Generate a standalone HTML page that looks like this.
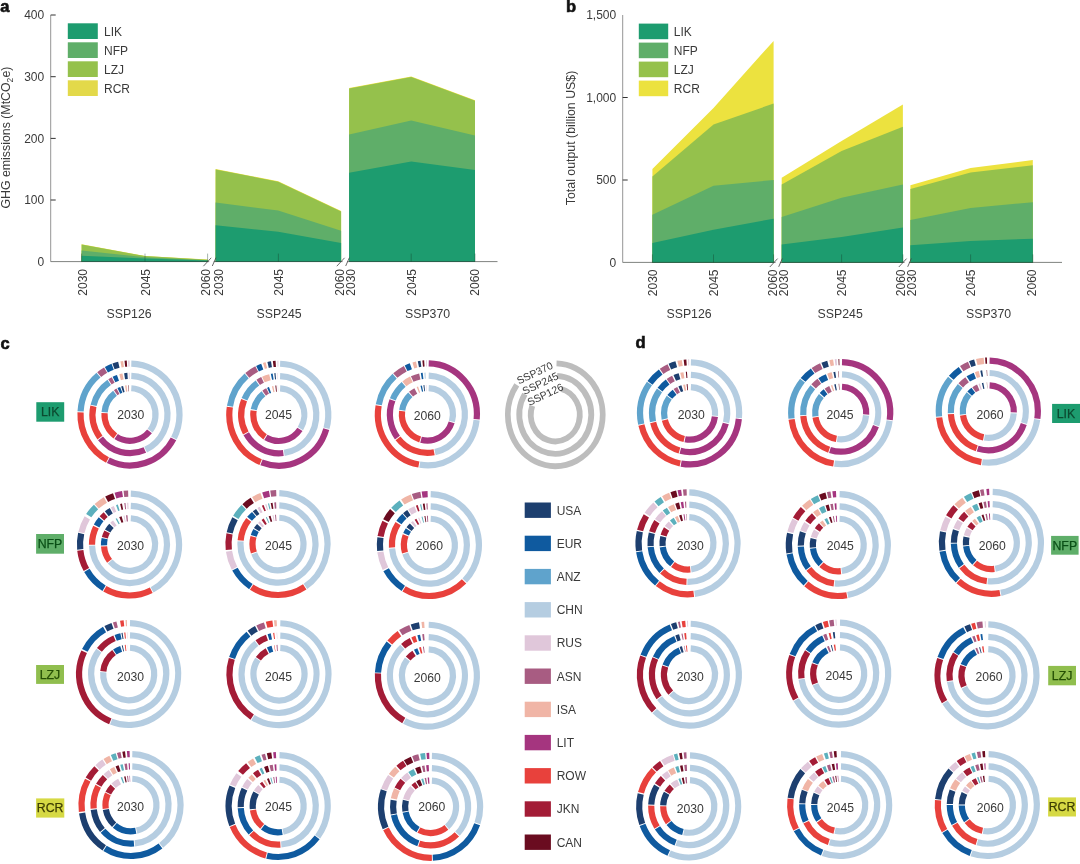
<!DOCTYPE html>
<html lang="en"><head><meta charset="utf-8"><title>Figure</title>
<style>
html,body{margin:0;padding:0;background:#fff}
body{width:1080px;height:864px;overflow:hidden}
svg{display:block}
svg text{font-family:"Liberation Sans",sans-serif;fill:#3a3a3a}
</style></head><body>
<svg width="1080" height="864" viewBox="0 0 1080 864">
<rect width="1080" height="864" fill="#fff"/>
<polygon fill="#ece23f" points="81.6,244.2 145.0,256.0 207.6,259.6 207.6,262.0 81.6,262.0"/>
<polygon fill="#95c14c" points="81.6,244.4 145.0,256.1 207.6,259.7 207.6,262.0 81.6,262.0"/>
<polygon fill="#5fae69" points="81.6,250.5 145.0,257.3 207.6,260.2 207.6,262.0 81.6,262.0"/>
<polygon fill="#1d9c6f" points="81.6,255.8 145.0,258.6 207.6,260.6 207.6,262.0 81.6,262.0"/>
<polygon fill="#ece23f" points="215.6,169.0 278.2,181.3 341.1,211.1 341.1,262.0 215.6,262.0"/>
<polygon fill="#95c14c" points="215.6,169.4 278.2,181.7 341.1,211.5 341.1,262.0 215.6,262.0"/>
<polygon fill="#5fae69" points="215.6,202.5 278.2,210.6 341.1,230.7 341.1,262.0 215.6,262.0"/>
<polygon fill="#1d9c6f" points="215.6,225.2 278.2,231.7 341.1,243.0 341.1,262.0 215.6,262.0"/>
<polygon fill="#ece23f" points="349.1,88.0 411.2,76.6 475.0,100.3 475.0,262.0 349.1,262.0"/>
<polygon fill="#95c14c" points="349.1,88.4 411.2,77.0 475.0,100.7 475.0,262.0 349.1,262.0"/>
<polygon fill="#5fae69" points="349.1,134.5 411.2,120.6 475.0,135.5 475.0,262.0 349.1,262.0"/>
<polygon fill="#1d9c6f" points="349.1,172.7 411.2,161.4 475.0,170.1 475.0,262.0 349.1,262.0"/>
<g fill="none">
<path d="M50.7 15V261.6" stroke="#8a8a8a" stroke-width="0.9"/>
<path d="M50.7 261.6H209.2M213.8 261.6H342.6M347.2 261.6H497.5" stroke="rgba(50,55,50,0.62)" stroke-width="1"/>
<path d="M203.4 266.2L211.2 257.8M212.3 266.0L216.0 257.6" stroke="#444" stroke-width="0.8"/>
<path d="M336.8 266.2L344.6 257.8M345.7 266.0L349.4 257.6" stroke="#444" stroke-width="0.8"/>
<path d="M50.7 200.0h5" stroke="#333" stroke-width="1"/>
<path d="M50.7 138.4h5" stroke="#333" stroke-width="1"/>
<path d="M50.7 76.7h5" stroke="#333" stroke-width="1"/>
<path d="M50.7 15h5" stroke="#333" stroke-width="1"/>
<path d="M81.6 261.6v-8" stroke="rgba(20,60,40,0.38)" stroke-width="1"/>
<path d="M145 261.6v-8" stroke="rgba(20,60,40,0.38)" stroke-width="1"/>
<path d="M207.6 261.6v-8" stroke="rgba(20,60,40,0.38)" stroke-width="1"/>
<path d="M278.4 261.6v-8" stroke="rgba(20,60,40,0.38)" stroke-width="1"/>
<path d="M411.2 261.6v-8" stroke="rgba(20,60,40,0.38)" stroke-width="1"/>
<path d="M475 261.6v-8" stroke="rgba(20,60,40,0.38)" stroke-width="1"/>
</g>
<g font-size="12">
<text x="44.2" y="265.9" text-anchor="end">0</text>
<text x="44.2" y="204.3" text-anchor="end">100</text>
<text x="44.2" y="142.7" text-anchor="end">200</text>
<text x="44.2" y="81.0" text-anchor="end">300</text>
<text x="44.2" y="19.3" text-anchor="end">400</text>
<text transform="translate(87.0 269.0) rotate(-90)" text-anchor="end">2030</text>
<text transform="translate(149.6 269.0) rotate(-90)" text-anchor="end">2045</text>
<text transform="translate(210.3 269.0) rotate(-90)" text-anchor="end">2060</text>
<text transform="translate(223.2 269.0) rotate(-90)" text-anchor="end">2030</text>
<text transform="translate(282.9 269.0) rotate(-90)" text-anchor="end">2045</text>
<text transform="translate(344.1 269.0) rotate(-90)" text-anchor="end">2060</text>
<text transform="translate(355.0 269.0) rotate(-90)" text-anchor="end">2030</text>
<text transform="translate(415.9 269.0) rotate(-90)" text-anchor="end">2045</text>
<text transform="translate(479.3 269.0) rotate(-90)" text-anchor="end">2060</text>
</g>
<g font-size="12.3">
<text x="106.5" y="317.6">SSP126</text>
<text x="256.5" y="317.6">SSP245</text>
<text x="405" y="317.6">SSP370</text>
</g>
<text transform="translate(10.2 208.6) rotate(-90)" font-size="12.35">GHG emissions (MtCO<tspan font-size="8.6" dy="3">2</tspan><tspan dy="-3">e)</tspan></text>
<rect x="67.8" y="23.3" width="30" height="15.7" fill="#1d9c6f"/>
<text x="104" y="35.9" font-size="12">LIK</text>
<rect x="67.8" y="42.3" width="30" height="15.7" fill="#5fae69"/>
<text x="104" y="54.9" font-size="12">NFP</text>
<rect x="67.8" y="61.3" width="30" height="15.7" fill="#95c14c"/>
<text x="104" y="73.9" font-size="12">LZJ</text>
<rect x="67.8" y="80.3" width="30" height="15.7" fill="#e3d94a"/>
<text x="104" y="92.9" font-size="12">RCR</text>
<text x="0.3" y="11.9" font-size="16.5" font-weight="bold" style="fill:#111;stroke:#111;stroke-width:0.6">a</text>
<polygon fill="#ece23f" points="652.4,168.9 713.5,108.0 773.6,40.9 773.6,262.8 652.4,262.8"/>
<polygon fill="#95c14c" points="652.4,176.4 713.5,124.4 773.6,103.6 773.6,262.8 652.4,262.8"/>
<polygon fill="#5fae69" points="652.4,214.7 713.5,185.8 773.6,180.0 773.6,262.8 652.4,262.8"/>
<polygon fill="#1d9c6f" points="652.4,243.1 713.5,229.8 773.6,218.7 773.6,262.8 652.4,262.8"/>
<polygon fill="#ece23f" points="781.7,177.8 841.6,140.9 902.9,104.4 902.9,262.8 781.7,262.8"/>
<polygon fill="#95c14c" points="781.7,184.4 841.6,151.1 902.9,126.7 902.9,262.8 781.7,262.8"/>
<polygon fill="#5fae69" points="781.7,216.9 841.6,197.8 902.9,184.4 902.9,262.8 781.7,262.8"/>
<polygon fill="#1d9c6f" points="781.7,244.4 841.6,236.9 902.9,227.6 902.9,262.8 781.7,262.8"/>
<polygon fill="#ece23f" points="910.4,185.3 970.6,168.0 1032.8,160.0 1032.8,262.8 910.4,262.8"/>
<polygon fill="#95c14c" points="910.4,188.9 970.6,172.4 1032.8,165.3 1032.8,262.8 910.4,262.8"/>
<polygon fill="#5fae69" points="910.4,220.0 970.6,208.0 1032.8,202.2 1032.8,262.8 910.4,262.8"/>
<polygon fill="#1d9c6f" points="910.4,245.3 970.6,240.9 1032.8,238.7 1032.8,262.8 910.4,262.8"/>
<g fill="none">
<path d="M622.7 15V262.4" stroke="#8a8a8a" stroke-width="0.9"/>
<path d="M622.7 262.4H775.6M779.9 262.4H904.6M908.9 262.4H1062" stroke="rgba(50,55,50,0.62)" stroke-width="1"/>
<path d="M769.8 267.0L777.6 258.6M778.7 266.8L782.4 258.4" stroke="#444" stroke-width="0.8"/>
<path d="M898.8 267.0L906.6 258.6M907.7 266.8L911.4 258.4" stroke="#444" stroke-width="0.8"/>
<path d="M622.7 180.0h5" stroke="#333" stroke-width="1"/>
<path d="M622.7 97.5h5" stroke="#333" stroke-width="1"/>
<path d="M652.4 262.4v-8" stroke="rgba(20,60,40,0.38)" stroke-width="1"/>
<path d="M713.5 262.4v-8" stroke="rgba(20,60,40,0.38)" stroke-width="1"/>
<path d="M773.6 262.4v-8" stroke="rgba(20,60,40,0.38)" stroke-width="1"/>
<path d="M841.6 262.4v-8" stroke="rgba(20,60,40,0.38)" stroke-width="1"/>
<path d="M902.9 262.4v-8" stroke="rgba(20,60,40,0.38)" stroke-width="1"/>
<path d="M970.6 262.4v-8" stroke="rgba(20,60,40,0.38)" stroke-width="1"/>
<path d="M1032.8 262.4v-8" stroke="rgba(20,60,40,0.38)" stroke-width="1"/>
</g>
<g font-size="12">
<text x="616.2" y="266.7" text-anchor="end">0</text>
<text x="616.2" y="184.3" text-anchor="end">500</text>
<text x="616.2" y="101.8" text-anchor="end">1,000</text>
<text x="616.2" y="19.3" text-anchor="end">1,500</text>
<text transform="translate(657.0 269.5) rotate(-90)" text-anchor="end">2030</text>
<text transform="translate(717.8 269.5) rotate(-90)" text-anchor="end">2045</text>
<text transform="translate(777.2 269.5) rotate(-90)" text-anchor="end">2060</text>
<text transform="translate(787.6 269.5) rotate(-90)" text-anchor="end">2030</text>
<text transform="translate(845.8 269.5) rotate(-90)" text-anchor="end">2045</text>
<text transform="translate(904.8 269.5) rotate(-90)" text-anchor="end">2060</text>
<text transform="translate(916.4 269.5) rotate(-90)" text-anchor="end">2030</text>
<text transform="translate(974.7 269.5) rotate(-90)" text-anchor="end">2045</text>
<text transform="translate(1035.6 269.5) rotate(-90)" text-anchor="end">2060</text>
</g>
<g font-size="12.3">
<text x="666.5" y="317.6">SSP126</text>
<text x="817.6" y="317.6">SSP245</text>
<text x="966" y="317.6">SSP370</text>
</g>
<text transform="translate(575.4 205.2) rotate(-90)" font-size="12.35">Total output (billion US$)</text>
<rect x="638.8" y="23.6" width="29.4" height="15.6" fill="#1d9c6f"/>
<text x="673.8" y="36.2" font-size="12">LIK</text>
<rect x="638.8" y="42.6" width="29.4" height="15.6" fill="#5fae69"/>
<text x="673.8" y="55.2" font-size="12">NFP</text>
<rect x="638.8" y="61.6" width="29.4" height="15.6" fill="#95c14c"/>
<text x="673.8" y="74.2" font-size="12">LZJ</text>
<rect x="638.8" y="80.6" width="29.4" height="15.6" fill="#ece23f"/>
<text x="673.8" y="93.2" font-size="12">RCR</text>
<text x="566" y="11.7" font-size="16.5" font-weight="bold" style="fill:#111;stroke:#111;stroke-width:0.6">b</text>
<text x="0.6" y="348.6" font-size="16.5" font-weight="bold" style="fill:#111;stroke:#111;stroke-width:0.6">c</text>
<text x="635.4" y="348.3" font-size="16.5" font-weight="bold" style="fill:#111;stroke:#111;stroke-width:0.6">d</text>
<!-- c-LIK-2030 -->
<g fill="none">
<path d="M131.30 363.53A49.5 50.98 0 0 1 173.92 438.03" stroke="#b5cde1" stroke-width="6.2"/>
<path d="M173.49 438.84A49.5 50.98 0 0 1 108.32 460.33" stroke="#a5357f" stroke-width="6.2"/>
<path d="M107.51 459.92A49.5 50.98 0 0 1 80.55 412.29" stroke="#e8413c" stroke-width="6.2"/>
<path d="M80.59 411.37A49.5 50.98 0 0 1 98.50 375.17" stroke="#5fa3cc" stroke-width="6.2"/>
<path d="M99.20 374.59A49.5 50.98 0 0 1 105.61 370.13" stroke="#a85c82" stroke-width="6.2"/>
<path d="M106.40 369.68A49.5 50.98 0 0 1 112.65 366.75" stroke="#0f5a9f" stroke-width="6.2"/>
<path d="M113.49 366.43A49.5 50.98 0 0 1 118.85 364.83" stroke="#1d3f6f" stroke-width="6.2"/>
<path d="M121.00 364.37A49.5 50.98 0 0 1 123.52 363.95" stroke="#f0b5a6" stroke-width="6.2"/>
<path d="M124.84 363.79A49.5 50.98 0 0 1 126.96 363.61" stroke="#6a0c20" stroke-width="6.2"/>
<path d="M128.29 363.55A49.5 50.98 0 0 1 129.55 363.52" stroke="#e0c7da" stroke-width="6.2"/>
<path d="M131.30 375.90A37.5 38.62 0 0 1 145.66 449.59" stroke="#b5cde1" stroke-width="6.2"/>
<path d="M144.84 449.97A37.5 38.62 0 0 1 100.48 438.33" stroke="#a5357f" stroke-width="6.2"/>
<path d="M99.94 437.59A37.5 38.62 0 0 1 93.36 406.26" stroke="#e8413c" stroke-width="6.2"/>
<path d="M93.56 405.36A37.5 38.62 0 0 1 109.20 382.36" stroke="#5fa3cc" stroke-width="6.2"/>
<path d="M109.95 381.86A37.5 38.62 0 0 1 113.16 379.99" stroke="#a85c82" stroke-width="6.2"/>
<path d="M113.97 379.58A37.5 38.62 0 0 1 117.98 377.91" stroke="#0f5a9f" stroke-width="6.2"/>
<path d="M120.10 377.25A37.5 38.62 0 0 1 123.05 376.55" stroke="#f0b5a6" stroke-width="6.2"/>
<path d="M124.58 376.28A37.5 38.62 0 0 1 127.59 375.95" stroke="#1d3f6f" stroke-width="6.2"/>
<path d="M128.81 375.89A37.5 38.62 0 0 1 129.55 375.88" stroke="#e0c7da" stroke-width="6.2"/>
<path d="M131.30 388.27A25.5 26.27 0 0 1 150.10 430.67" stroke="#b5cde1" stroke-width="6.2"/>
<path d="M149.53 431.39A25.5 26.27 0 0 1 116.12 436.53" stroke="#a5357f" stroke-width="6.2"/>
<path d="M115.37 436.01A25.5 26.27 0 0 1 104.53 413.13" stroke="#e8413c" stroke-width="6.2"/>
<path d="M104.60 412.21A25.5 26.27 0 0 1 115.01 393.25" stroke="#5fa3cc" stroke-width="6.2"/>
<path d="M115.74 392.72A25.5 26.27 0 0 1 118.02 391.31" stroke="#a85c82" stroke-width="6.2"/>
<path d="M118.83 390.89A25.5 26.27 0 0 1 121.27 389.82" stroke="#0f5a9f" stroke-width="6.2"/>
<path d="M122.12 389.52A25.5 26.27 0 0 1 123.83 389.02" stroke="#1d3f6f" stroke-width="6.2"/>
<path d="M125.58 388.63A25.5 26.27 0 0 1 126.89 388.43" stroke="#f0b5a6" stroke-width="6.2"/>
<path d="M128.23 388.30A25.5 26.27 0 0 1 128.66 388.27" stroke="#6a0c20" stroke-width="6.2"/>
</g>
<text x="130.8" y="419.2" text-anchor="middle" font-size="12.2">2030</text>
<!-- c-LIK-2045 -->
<g fill="none">
<path d="M280.10 363.73A49.5 50.98 0 0 1 326.50 428.31" stroke="#b5cde1" stroke-width="6.2"/>
<path d="M326.26 429.20A49.5 50.98 0 0 1 261.48 462.46" stroke="#a5357f" stroke-width="6.2"/>
<path d="M260.64 462.13A49.5 50.98 0 0 1 229.84 407.18" stroke="#e8413c" stroke-width="6.2"/>
<path d="M229.98 406.27A49.5 50.98 0 0 1 246.64 375.94" stroke="#5fa3cc" stroke-width="6.2"/>
<path d="M247.33 375.35A49.5 50.98 0 0 1 256.70 369.08" stroke="#a85c82" stroke-width="6.2"/>
<path d="M257.51 368.67A49.5 50.98 0 0 1 262.26 366.65" stroke="#0f5a9f" stroke-width="6.2"/>
<path d="M263.93 366.07A49.5 50.98 0 0 1 266.39 365.34" stroke="#f0b5a6" stroke-width="6.2"/>
<path d="M268.10 364.92A49.5 50.98 0 0 1 271.47 364.28" stroke="#1d3f6f" stroke-width="6.2"/>
<path d="M273.21 364.04A49.5 50.98 0 0 1 275.76 363.81" stroke="#6a0c20" stroke-width="6.2"/>
<path d="M277.52 363.73A49.5 50.98 0 0 1 278.35 363.72" stroke="#e0c7da" stroke-width="6.2"/>
<path d="M280.10 376.10A37.5 38.62 0 0 1 284.21 452.92" stroke="#b5cde1" stroke-width="6.2"/>
<path d="M283.31 453.04A37.5 38.62 0 0 1 246.22 433.83" stroke="#a5357f" stroke-width="6.2"/>
<path d="M245.79 433.02A37.5 38.62 0 0 1 244.11 400.04" stroke="#e8413c" stroke-width="6.2"/>
<path d="M244.46 399.18A37.5 38.62 0 0 1 257.46 382.94" stroke="#5fa3cc" stroke-width="6.2"/>
<path d="M258.20 382.42A37.5 38.62 0 0 1 262.55 379.89" stroke="#a85c82" stroke-width="6.2"/>
<path d="M263.36 379.50A37.5 38.62 0 0 1 269.93 377.17" stroke="#f0b5a6" stroke-width="6.2"/>
<path d="M271.44 376.83A37.5 38.62 0 0 1 273.14 376.52" stroke="#0f5a9f" stroke-width="6.2"/>
<path d="M274.68 376.31A37.5 38.62 0 0 1 275.74 376.20" stroke="#1d3f6f" stroke-width="6.2"/>
<path d="M277.29 376.11A37.5 38.62 0 0 1 277.70 376.09" stroke="#e0c7da" stroke-width="6.2"/>
<path d="M280.10 388.47A25.5 26.27 0 0 1 300.43 428.61" stroke="#b5cde1" stroke-width="6.2"/>
<path d="M299.94 429.39A25.5 26.27 0 0 1 265.86 437.33" stroke="#a5357f" stroke-width="6.2"/>
<path d="M265.09 436.85A25.5 26.27 0 0 1 253.61 410.60" stroke="#e8413c" stroke-width="6.2"/>
<path d="M253.77 409.68A25.5 26.27 0 0 1 263.45 393.73" stroke="#5fa3cc" stroke-width="6.2"/>
<path d="M264.18 393.18A25.5 26.27 0 0 1 267.62 391.10" stroke="#a85c82" stroke-width="6.2"/>
<path d="M268.43 390.70A25.5 26.27 0 0 1 270.07 390.02" stroke="#0f5a9f" stroke-width="6.2"/>
<path d="M272.64 389.21A25.5 26.27 0 0 1 273.93 388.92" stroke="#f0b5a6" stroke-width="6.2"/>
<path d="M275.70 388.63A25.5 26.27 0 0 1 276.57 388.54" stroke="#6a0c20" stroke-width="6.2"/>
<path d="M277.92 388.45A25.5 26.27 0 0 1 278.14 388.44" stroke="#e0c7da" stroke-width="6.2"/>
</g>
<text x="278.5" y="419.3" text-anchor="middle" font-size="12.2">2045</text>
<!-- c-LIK-2060 -->
<g fill="none">
<path d="M428.70 363.33A49.5 50.98 0 0 1 476.67 419.17" stroke="#a5357f" stroke-width="6.2"/>
<path d="M476.58 420.09A49.5 50.98 0 0 1 419.76 464.67" stroke="#b5cde1" stroke-width="6.2"/>
<path d="M418.87 464.52A49.5 50.98 0 0 1 378.62 405.64" stroke="#e8413c" stroke-width="6.2"/>
<path d="M378.78 404.73A49.5 50.98 0 0 1 394.59 376.13" stroke="#5fa3cc" stroke-width="6.2"/>
<path d="M395.27 375.52A49.5 50.98 0 0 1 405.30 368.68" stroke="#a85c82" stroke-width="6.2"/>
<path d="M406.11 368.27A49.5 50.98 0 0 1 410.86 366.25" stroke="#0f5a9f" stroke-width="6.2"/>
<path d="M413.36 365.41A49.5 50.98 0 0 1 416.67 364.53" stroke="#f0b5a6" stroke-width="6.2"/>
<path d="M418.40 364.17A49.5 50.98 0 0 1 420.92 363.75" stroke="#1d3f6f" stroke-width="6.2"/>
<path d="M422.67 363.55A49.5 50.98 0 0 1 424.36 363.41" stroke="#6a0c20" stroke-width="6.2"/>
<path d="M426.12 363.33A49.5 50.98 0 0 1 426.95 363.32" stroke="#e0c7da" stroke-width="6.2"/>
<path d="M428.70 375.70A37.5 38.62 0 0 1 435.00 452.12" stroke="#b5cde1" stroke-width="6.2"/>
<path d="M434.11 452.30A37.5 38.62 0 0 1 398.01 438.29" stroke="#e8413c" stroke-width="6.2"/>
<path d="M397.46 437.55A37.5 38.62 0 0 1 392.46 400.26" stroke="#a5357f" stroke-width="6.2"/>
<path d="M392.80 399.40A37.5 38.62 0 0 1 403.65 384.41" stroke="#5fa3cc" stroke-width="6.2"/>
<path d="M404.36 383.83A37.5 38.62 0 0 1 411.38 379.38" stroke="#f0b5a6" stroke-width="6.2"/>
<path d="M412.20 378.99A37.5 38.62 0 0 1 419.80 376.48" stroke="#a85c82" stroke-width="6.2"/>
<path d="M421.33 376.18A37.5 38.62 0 0 1 423.03 375.94" stroke="#0f5a9f" stroke-width="6.2"/>
<path d="M424.58 375.78A37.5 38.62 0 0 1 425.64 375.72" stroke="#b5cde1" stroke-width="6.2"/>
<path d="M428.70 388.07A25.5 26.27 0 0 1 451.91 421.53" stroke="#b5cde1" stroke-width="6.2"/>
<path d="M451.65 422.42A25.5 26.27 0 0 1 421.02 439.73" stroke="#a5357f" stroke-width="6.2"/>
<path d="M420.15 439.48A25.5 26.27 0 0 1 402.09 411.10" stroke="#e8413c" stroke-width="6.2"/>
<path d="M402.21 410.19A25.5 26.27 0 0 1 410.33 394.78" stroke="#5fa3cc" stroke-width="6.2"/>
<path d="M411.01 394.18A25.5 26.27 0 0 1 415.82 390.90" stroke="#a85c82" stroke-width="6.2"/>
<path d="M417.85 389.95A25.5 26.27 0 0 1 419.09 389.47" stroke="#f0b5a6" stroke-width="6.2"/>
<path d="M421.24 388.81A25.5 26.27 0 0 1 422.53 388.52" stroke="#0f5a9f" stroke-width="6.2"/>
<path d="M423.86 388.29A25.5 26.27 0 0 1 424.73 388.18" stroke="#1d3f6f" stroke-width="6.2"/>
<path d="M426.07 388.07A25.5 26.27 0 0 1 426.51 388.05" stroke="#e0c7da" stroke-width="6.2"/>
</g>
<text x="427.3" y="419.6" text-anchor="middle" font-size="12.2">2060</text>
<!-- c-NFP-2030 -->
<g fill="none">
<path d="M130.80 493.53A49.5 50.98 0 0 1 152.07 589.88" stroke="#b5cde1" stroke-width="6.2"/>
<path d="M151.26 590.29A49.5 50.98 0 0 1 104.84 588.71" stroke="#e8413c" stroke-width="6.2"/>
<path d="M104.06 588.24A49.5 50.98 0 0 1 86.86 570.39" stroke="#0f5a9f" stroke-width="6.2"/>
<path d="M86.41 569.59A49.5 50.98 0 0 1 80.32 550.29" stroke="#a31c36" stroke-width="6.2"/>
<path d="M80.23 549.37A49.5 50.98 0 0 1 81.17 533.48" stroke="#1d3f6f" stroke-width="6.2"/>
<path d="M81.37 532.58A49.5 50.98 0 0 1 87.28 517.88" stroke="#e0c7da" stroke-width="6.2"/>
<path d="M88.72 515.61A49.5 50.98 0 0 1 96.04 506.92" stroke="#5cb0bd" stroke-width="6.2"/>
<path d="M96.71 506.30A49.5 50.98 0 0 1 105.41 499.96" stroke="#f0b5a6" stroke-width="6.2"/>
<path d="M106.66 499.27A49.5 50.98 0 0 1 114.02 496.07" stroke="#6a0c20" stroke-width="6.2"/>
<path d="M115.46 495.61A49.5 50.98 0 0 1 122.51 494.03" stroke="#a5357f" stroke-width="6.2"/>
<path d="M123.91 493.84A49.5 50.98 0 0 1 128.19 493.53" stroke="#a85c82" stroke-width="6.2"/>
<path d="M130.80 505.90A37.5 38.62 0 1 1 92.02 545.64" stroke="#b5cde1" stroke-width="6.2"/>
<path d="M92.00 544.71A37.5 38.62 0 0 1 96.00 527.14" stroke="#e8413c" stroke-width="6.2"/>
<path d="M96.60 525.96A37.5 38.62 0 0 1 101.12 519.26" stroke="#0f5a9f" stroke-width="6.2"/>
<path d="M101.94 518.31A37.5 38.62 0 0 1 105.70 514.65" stroke="#a31c36" stroke-width="6.2"/>
<path d="M106.77 513.78A37.5 38.62 0 0 1 111.27 510.75" stroke="#1d3f6f" stroke-width="6.2"/>
<path d="M112.29 510.18A37.5 38.62 0 0 1 115.04 508.86" stroke="#e0c7da" stroke-width="6.2"/>
<path d="M117.10 508.05A37.5 38.62 0 0 1 118.73 507.50" stroke="#5cb0bd" stroke-width="6.2"/>
<path d="M120.87 506.91A37.5 38.62 0 0 1 122.55 506.55" stroke="#6a0c20" stroke-width="6.2"/>
<path d="M124.73 506.19A37.5 38.62 0 0 1 125.78 506.07" stroke="#a85c82" stroke-width="6.2"/>
<path d="M127.33 505.94A37.5 38.62 0 0 1 128.40 505.89" stroke="#e0c7da" stroke-width="6.2"/>
<path d="M130.80 518.27A25.5 26.27 0 1 1 110.14 561.60" stroke="#b5cde1" stroke-width="6.2"/>
<path d="M109.57 560.88A25.5 26.27 0 0 1 104.06 546.34" stroke="#e8413c" stroke-width="6.2"/>
<path d="M104.02 545.41A25.5 26.27 0 0 1 104.65 538.60" stroke="#0f5a9f" stroke-width="6.2"/>
<path d="M104.87 537.70A25.5 26.27 0 0 1 107.13 531.89" stroke="#a31c36" stroke-width="6.2"/>
<path d="M107.64 530.97A25.5 26.27 0 0 1 111.47 525.93" stroke="#1d3f6f" stroke-width="6.2"/>
<path d="M112.44 524.98A25.5 26.27 0 0 1 114.87 522.99" stroke="#e0c7da" stroke-width="6.2"/>
<path d="M117.14 521.53A25.5 26.27 0 0 1 118.32 520.90" stroke="#5cb0bd" stroke-width="6.2"/>
<path d="M120.37 519.98A25.5 26.27 0 0 1 122.47 519.25" stroke="#6a0c20" stroke-width="6.2"/>
<path d="M124.20 518.81A25.5 26.27 0 0 1 125.07 518.63" stroke="#e0c7da" stroke-width="6.2"/>
<path d="M126.40 518.43A25.5 26.27 0 0 1 127.72 518.30" stroke="#a85c82" stroke-width="6.2"/>
</g>
<text x="130.6" y="549.7" text-anchor="middle" font-size="12.2">2030</text>
<!-- c-NFP-2045 -->
<g fill="none">
<path d="M279.30 493.03A49.5 50.98 0 0 1 305.48 586.41" stroke="#b5cde1" stroke-width="6.2"/>
<path d="M304.73 586.91A49.5 50.98 0 0 1 251.64 587.15" stroke="#e8413c" stroke-width="6.2"/>
<path d="M250.88 586.65A49.5 50.98 0 0 1 234.93 569.12" stroke="#0f5a9f" stroke-width="6.2"/>
<path d="M234.49 568.31A49.5 50.98 0 0 1 229.01 551.29" stroke="#e0c7da" stroke-width="6.2"/>
<path d="M228.82 549.75A49.5 50.98 0 0 1 229.49 533.85" stroke="#a31c36" stroke-width="6.2"/>
<path d="M229.68 532.95A49.5 50.98 0 0 1 235.04 518.68" stroke="#1d3f6f" stroke-width="6.2"/>
<path d="M235.80 517.34A49.5 50.98 0 0 1 243.73 507.21" stroke="#5cb0bd" stroke-width="6.2"/>
<path d="M244.57 506.40A49.5 50.98 0 0 1 252.27 500.45" stroke="#6a0c20" stroke-width="6.2"/>
<path d="M253.64 499.62A49.5 50.98 0 0 1 261.46 495.95" stroke="#f0b5a6" stroke-width="6.2"/>
<path d="M263.13 495.37A49.5 50.98 0 0 1 269.47 493.78" stroke="#a5357f" stroke-width="6.2"/>
<path d="M270.70 493.57A49.5 50.98 0 0 1 276.25 493.05" stroke="#a85c82" stroke-width="6.2"/>
<path d="M279.30 505.40A37.5 38.62 0 1 1 240.59 541.36" stroke="#b5cde1" stroke-width="6.2"/>
<path d="M240.66 540.44A37.5 38.62 0 0 1 248.74 519.84" stroke="#e8413c" stroke-width="6.2"/>
<path d="M249.56 518.82A37.5 38.62 0 0 1 254.05 514.28" stroke="#0f5a9f" stroke-width="6.2"/>
<path d="M254.75 513.69A37.5 38.62 0 0 1 257.75 511.49" stroke="#1d3f6f" stroke-width="6.2"/>
<path d="M259.07 510.66A37.5 38.62 0 0 1 261.16 509.49" stroke="#e0c7da" stroke-width="6.2"/>
<path d="M263.16 508.53A37.5 38.62 0 0 1 264.75 507.87" stroke="#a31c36" stroke-width="6.2"/>
<path d="M266.22 507.33A37.5 38.62 0 0 1 267.23 507.00" stroke="#e0c7da" stroke-width="6.2"/>
<path d="M268.73 506.57A37.5 38.62 0 0 1 269.76 506.32" stroke="#5cb0bd" stroke-width="6.2"/>
<path d="M271.29 506.00A37.5 38.62 0 0 1 272.98 505.72" stroke="#6a0c20" stroke-width="6.2"/>
<path d="M274.53 505.54A37.5 38.62 0 0 1 276.24 505.42" stroke="#a85c82" stroke-width="6.2"/>
<path d="M279.30 517.77A25.5 26.27 0 1 1 254.16 553.33" stroke="#b5cde1" stroke-width="6.2"/>
<path d="M253.86 552.46A25.5 26.27 0 0 1 253.49 536.77" stroke="#e8413c" stroke-width="6.2"/>
<path d="M253.75 535.88A25.5 26.27 0 0 1 256.09 530.56" stroke="#0f5a9f" stroke-width="6.2"/>
<path d="M256.62 529.69A25.5 26.27 0 0 1 259.35 526.09" stroke="#1d3f6f" stroke-width="6.2"/>
<path d="M260.29 525.10A25.5 26.27 0 0 1 261.95 523.59" stroke="#e0c7da" stroke-width="6.2"/>
<path d="M263.38 522.48A25.5 26.27 0 0 1 265.25 521.26" stroke="#a31c36" stroke-width="6.2"/>
<path d="M267.23 520.19A25.5 26.27 0 0 1 268.03 519.82" stroke="#5cb0bd" stroke-width="6.2"/>
<path d="M269.70 519.16A25.5 26.27 0 0 1 271.40 518.63" stroke="#6a0c20" stroke-width="6.2"/>
<path d="M273.14 518.22A25.5 26.27 0 0 1 274.01 518.06" stroke="#e0c7da" stroke-width="6.2"/>
<path d="M275.34 517.88A25.5 26.27 0 0 1 276.22 517.80" stroke="#a85c82" stroke-width="6.2"/>
</g>
<text x="278.5" y="549.8" text-anchor="middle" font-size="12.2">2045</text>
<!-- c-NFP-2060 -->
<g fill="none">
<path d="M430.70 494.03A49.5 50.98 0 0 1 464.72 580.72" stroke="#b5cde1" stroke-width="6.2"/>
<path d="M464.08 581.38A49.5 50.98 0 0 1 404.07 588.80" stroke="#e8413c" stroke-width="6.2"/>
<path d="M403.30 588.32A49.5 50.98 0 0 1 386.12 569.73" stroke="#0f5a9f" stroke-width="6.2"/>
<path d="M385.48 568.53A49.5 50.98 0 0 1 380.36 551.94" stroke="#e0c7da" stroke-width="6.2"/>
<path d="M380.22 550.75A49.5 50.98 0 0 1 380.42 537.66" stroke="#1d3f6f" stroke-width="6.2"/>
<path d="M380.58 536.57A49.5 50.98 0 0 1 385.21 522.03" stroke="#a31c36" stroke-width="6.2"/>
<path d="M385.91 520.66A49.5 50.98 0 0 1 392.43 511.10" stroke="#6a0c20" stroke-width="6.2"/>
<path d="M393.51 509.89A49.5 50.98 0 0 1 401.35 502.99" stroke="#5cb0bd" stroke-width="6.2"/>
<path d="M402.82 501.99A49.5 50.98 0 0 1 411.89 497.31" stroke="#f0b5a6" stroke-width="6.2"/>
<path d="M412.89 496.93A49.5 50.98 0 0 1 420.87 494.78" stroke="#a85c82" stroke-width="6.2"/>
<path d="M422.10 494.57A49.5 50.98 0 0 1 427.65 494.05" stroke="#a5357f" stroke-width="6.2"/>
<path d="M430.70 506.40A37.5 38.62 0 1 1 392.05 548.49" stroke="#b5cde1" stroke-width="6.2"/>
<path d="M391.98 547.57A37.5 38.62 0 0 1 398.13 523.67" stroke="#e8413c" stroke-width="6.2"/>
<path d="M398.94 522.47A37.5 38.62 0 0 1 404.46 516.16" stroke="#0f5a9f" stroke-width="6.2"/>
<path d="M405.14 515.55A37.5 38.62 0 0 1 408.98 512.60" stroke="#1d3f6f" stroke-width="6.2"/>
<path d="M409.91 512.00A37.5 38.62 0 0 1 415.54 509.11" stroke="#e0c7da" stroke-width="6.2"/>
<path d="M417.00 508.55A37.5 38.62 0 0 1 418.63 508.00" stroke="#a31c36" stroke-width="6.2"/>
<path d="M420.77 507.41A37.5 38.62 0 0 1 421.80 507.18" stroke="#5cb0bd" stroke-width="6.2"/>
<path d="M423.33 506.88A37.5 38.62 0 0 1 425.03 506.64" stroke="#6a0c20" stroke-width="6.2"/>
<path d="M426.58 506.48A37.5 38.62 0 0 1 427.64 506.42" stroke="#a85c82" stroke-width="6.2"/>
<path d="M430.70 518.77A25.5 26.27 0 1 1 405.29 553.56" stroke="#b5cde1" stroke-width="6.2"/>
<path d="M405.01 552.67A25.5 26.27 0 0 1 405.64 535.46" stroke="#e8413c" stroke-width="6.2"/>
<path d="M406.11 534.31A25.5 26.27 0 0 1 408.43 530.05" stroke="#0f5a9f" stroke-width="6.2"/>
<path d="M409.04 529.19A25.5 26.27 0 0 1 412.01 525.79" stroke="#1d3f6f" stroke-width="6.2"/>
<path d="M413.01 524.88A25.5 26.27 0 0 1 414.77 523.49" stroke="#e0c7da" stroke-width="6.2"/>
<path d="M416.27 522.48A25.5 26.27 0 0 1 417.82 521.60" stroke="#a31c36" stroke-width="6.2"/>
<path d="M419.44 520.82A25.5 26.27 0 0 1 420.26 520.48" stroke="#e0c7da" stroke-width="6.2"/>
<path d="M422.38 519.75A25.5 26.27 0 0 1 423.23 519.52" stroke="#5cb0bd" stroke-width="6.2"/>
<path d="M424.98 519.13A25.5 26.27 0 0 1 425.85 518.99" stroke="#6a0c20" stroke-width="6.2"/>
<path d="M427.18 518.83A25.5 26.27 0 0 1 428.06 518.77" stroke="#a85c82" stroke-width="6.2"/>
</g>
<text x="429.4" y="549.5" text-anchor="middle" font-size="12.2">2060</text>
<!-- c-LZJ-2030 -->
<g fill="none">
<path d="M130.00 623.03A49.5 50.98 0 1 1 111.14 721.67" stroke="#b5cde1" stroke-width="6.2"/>
<path d="M110.30 721.33A49.5 50.98 0 0 1 84.16 651.75" stroke="#a31c36" stroke-width="6.2"/>
<path d="M84.80 650.44A49.5 50.98 0 0 1 104.54 629.50" stroke="#0f5a9f" stroke-width="6.2"/>
<path d="M105.86 628.77A49.5 50.98 0 0 1 112.49 625.83" stroke="#1d3f6f" stroke-width="6.2"/>
<path d="M113.83 625.37A49.5 50.98 0 0 1 117.13 624.43" stroke="#a85c82" stroke-width="6.2"/>
<path d="M120.55 623.71A49.5 50.98 0 0 1 123.94 623.25" stroke="#e8413c" stroke-width="6.2"/>
<path d="M125.70 623.11A49.5 50.98 0 0 1 126.95 623.05" stroke="#f0b5a6" stroke-width="6.2"/>
<path d="M130.00 635.40A37.5 38.62 0 1 1 98.87 650.59" stroke="#b5cde1" stroke-width="6.2"/>
<path d="M99.43 649.86A37.5 38.62 0 0 1 114.54 638.24" stroke="#a31c36" stroke-width="6.2"/>
<path d="M115.68 637.78A37.5 38.62 0 0 1 120.98 636.20" stroke="#0f5a9f" stroke-width="6.2"/>
<path d="M121.99 636.00A37.5 38.62 0 0 1 123.04 635.82" stroke="#1d3f6f" stroke-width="6.2"/>
<path d="M124.58 635.61A37.5 38.62 0 0 1 125.64 635.50" stroke="#e8413c" stroke-width="6.2"/>
<path d="M127.19 635.41A37.5 38.62 0 0 1 127.60 635.39" stroke="#e0c7da" stroke-width="6.2"/>
<path d="M130.00 647.77A25.5 26.27 0 1 1 103.26 672.26" stroke="#b5cde1" stroke-width="6.2"/>
<path d="M103.33 671.34A25.5 26.27 0 0 1 114.07 652.49" stroke="#a31c36" stroke-width="6.2"/>
<path d="M114.82 651.97A25.5 26.27 0 0 1 121.15 648.91" stroke="#0f5a9f" stroke-width="6.2"/>
<path d="M122.54 648.51A25.5 26.27 0 0 1 123.39 648.31" stroke="#1d3f6f" stroke-width="6.2"/>
<path d="M125.16 647.99A25.5 26.27 0 0 1 126.03 647.88" stroke="#e8413c" stroke-width="6.2"/>
<path d="M127.82 647.75A25.5 26.27 0 0 1 128.04 647.74" stroke="#e0c7da" stroke-width="6.2"/>
</g>
<text x="130.6" y="681.3" text-anchor="middle" font-size="12.2">2030</text>
<!-- c-LZJ-2045 -->
<g fill="none">
<path d="M280.30 623.23A49.5 50.98 0 1 1 252.93 717.54" stroke="#b5cde1" stroke-width="6.2"/>
<path d="M252.17 717.05A49.5 50.98 0 0 1 231.79 658.89" stroke="#a31c36" stroke-width="6.2"/>
<path d="M232.06 658.00A49.5 50.98 0 0 1 248.44 634.09" stroke="#0f5a9f" stroke-width="6.2"/>
<path d="M249.57 633.20A49.5 50.98 0 0 1 256.43 628.82" stroke="#1d3f6f" stroke-width="6.2"/>
<path d="M257.71 628.17A49.5 50.98 0 0 1 264.84 625.35" stroke="#a85c82" stroke-width="6.2"/>
<path d="M266.62 624.83A49.5 50.98 0 0 1 272.78 623.62" stroke="#e8413c" stroke-width="6.2"/>
<path d="M274.27 623.45A49.5 50.98 0 0 1 276.82 623.26" stroke="#f0b5a6" stroke-width="6.2"/>
<path d="M280.30 635.60A37.5 38.62 0 1 1 256.49 643.31" stroke="#b5cde1" stroke-width="6.2"/>
<path d="M257.32 642.68A37.5 38.62 0 0 1 266.98 637.61" stroke="#a31c36" stroke-width="6.2"/>
<path d="M268.47 637.13A37.5 38.62 0 0 1 271.40 636.38" stroke="#0f5a9f" stroke-width="6.2"/>
<path d="M273.58 635.98A37.5 38.62 0 0 1 274.63 635.84" stroke="#e8413c" stroke-width="6.2"/>
<path d="M276.83 635.64A37.5 38.62 0 0 1 277.24 635.62" stroke="#e0c7da" stroke-width="6.2"/>
<path d="M280.30 647.97A25.5 26.27 0 1 1 257.86 659.52" stroke="#b5cde1" stroke-width="6.2"/>
<path d="M258.37 658.76A25.5 26.27 0 0 1 267.14 650.95" stroke="#a31c36" stroke-width="6.2"/>
<path d="M268.23 650.39A25.5 26.27 0 0 1 272.40 648.83" stroke="#0f5a9f" stroke-width="6.2"/>
<path d="M274.58 648.33A25.5 26.27 0 0 1 275.01 648.26" stroke="#e8413c" stroke-width="6.2"/>
<path d="M276.78 648.03A25.5 26.27 0 0 1 277.66 647.97" stroke="#a85c82" stroke-width="6.2"/>
</g>
<text x="278.5" y="681.3" text-anchor="middle" font-size="12.2">2045</text>
<!-- c-LZJ-2060 -->
<g fill="none">
<path d="M428.70 624.73A49.5 50.98 0 1 1 404.56 720.93" stroke="#b5cde1" stroke-width="6.2"/>
<path d="M403.76 720.50A49.5 50.98 0 0 1 377.95 673.49" stroke="#a31c36" stroke-width="6.2"/>
<path d="M377.99 672.57A49.5 50.98 0 0 1 389.03 643.49" stroke="#0f5a9f" stroke-width="6.2"/>
<path d="M389.77 642.57A49.5 50.98 0 0 1 399.42 633.64" stroke="#e8413c" stroke-width="6.2"/>
<path d="M400.82 632.69A49.5 50.98 0 0 1 410.37 627.83" stroke="#a85c82" stroke-width="6.2"/>
<path d="M411.71 627.34A49.5 50.98 0 0 1 419.47 625.37" stroke="#1d3f6f" stroke-width="6.2"/>
<path d="M421.81 625.04A49.5 50.98 0 0 1 424.36 624.81" stroke="#f0b5a6" stroke-width="6.2"/>
<path d="M428.70 637.10A37.5 38.62 0 1 1 402.36 646.95" stroke="#b5cde1" stroke-width="6.2"/>
<path d="M403.14 646.25A37.5 38.62 0 0 1 411.15 640.89" stroke="#a31c36" stroke-width="6.2"/>
<path d="M412.56 640.23A37.5 38.62 0 0 1 416.32 638.80" stroke="#e8413c" stroke-width="6.2"/>
<path d="M418.13 638.27A37.5 38.62 0 0 1 420.64 637.71" stroke="#0f5a9f" stroke-width="6.2"/>
<path d="M422.63 637.39A37.5 38.62 0 0 1 424.34 637.20" stroke="#a85c82" stroke-width="6.2"/>
<path d="M428.70 649.47A25.5 26.27 0 1 1 407.41 659.39" stroke="#b5cde1" stroke-width="6.2"/>
<path d="M408.16 658.46A25.5 26.27 0 0 1 414.07 653.31" stroke="#a31c36" stroke-width="6.2"/>
<path d="M415.43 652.51A25.5 26.27 0 0 1 418.47 651.10" stroke="#0f5a9f" stroke-width="6.2"/>
<path d="M419.95 650.58A25.5 26.27 0 0 1 421.66 650.11" stroke="#e8413c" stroke-width="6.2"/>
<path d="M423.42 649.76A25.5 26.27 0 0 1 424.29 649.63" stroke="#a85c82" stroke-width="6.2"/>
</g>
<text x="427.3" y="681.6" text-anchor="middle" font-size="12.2">2060</text>
<!-- c-RCR-2030 -->
<g fill="none">
<path d="M132.30 754.03A49.5 50.98 0 0 1 161.22 845.38" stroke="#b5cde1" stroke-width="6.2"/>
<path d="M160.50 845.94A49.5 50.98 0 0 1 105.00 848.39" stroke="#0f5a9f" stroke-width="6.2"/>
<path d="M104.24 847.89A49.5 50.98 0 0 1 82.11 812.99" stroke="#1d3f6f" stroke-width="6.2"/>
<path d="M81.92 811.64A49.5 50.98 0 0 1 87.78 780.14" stroke="#e8413c" stroke-width="6.2"/>
<path d="M88.36 779.11A49.5 50.98 0 0 1 96.54 768.40" stroke="#a31c36" stroke-width="6.2"/>
<path d="M97.57 767.40A49.5 50.98 0 0 1 104.10 762.20" stroke="#e0c7da" stroke-width="6.2"/>
<path d="M105.15 761.52A49.5 50.98 0 0 1 110.69 758.50" stroke="#f0b5a6" stroke-width="6.2"/>
<path d="M112.07 757.89A49.5 50.98 0 0 1 116.59 756.22" stroke="#5cb0bd" stroke-width="6.2"/>
<path d="M117.79 755.86A49.5 50.98 0 0 1 121.11 755.04" stroke="#a85c82" stroke-width="6.2"/>
<path d="M122.85 754.71A49.5 50.98 0 0 1 125.38 754.34" stroke="#6a0c20" stroke-width="6.2"/>
<path d="M127.13 754.17A49.5 50.98 0 0 1 129.69 754.03" stroke="#a5357f" stroke-width="6.2"/>
<path d="M132.30 766.40A37.5 38.62 0 0 1 134.85 843.42" stroke="#b5cde1" stroke-width="6.2"/>
<path d="M133.95 843.51A37.5 38.62 0 0 1 103.00 830.69" stroke="#0f5a9f" stroke-width="6.2"/>
<path d="M102.41 829.99A37.5 38.62 0 0 1 93.77 809.63" stroke="#1d3f6f" stroke-width="6.2"/>
<path d="M93.66 808.58A37.5 38.62 0 0 1 98.21 786.27" stroke="#e8413c" stroke-width="6.2"/>
<path d="M98.75 785.29A37.5 38.62 0 0 1 105.00 777.16" stroke="#a31c36" stroke-width="6.2"/>
<path d="M105.76 776.44A37.5 38.62 0 0 1 110.58 772.60" stroke="#e0c7da" stroke-width="6.2"/>
<path d="M111.51 772.00A37.5 38.62 0 0 1 115.52 769.82" stroke="#f0b5a6" stroke-width="6.2"/>
<path d="M116.76 769.27A37.5 38.62 0 0 1 119.61 768.20" stroke="#6a0c20" stroke-width="6.2"/>
<path d="M121.10 767.75A37.5 38.62 0 0 1 123.40 767.18" stroke="#5cb0bd" stroke-width="6.2"/>
<path d="M124.93 766.88A37.5 38.62 0 0 1 127.28 766.57" stroke="#a85c82" stroke-width="6.2"/>
<path d="M128.83 766.44A37.5 38.62 0 0 1 129.90 766.39" stroke="#a5357f" stroke-width="6.2"/>
<path d="M132.30 778.77A25.5 26.27 0 0 1 136.65 830.61" stroke="#b5cde1" stroke-width="6.2"/>
<path d="M135.77 830.80A25.5 26.27 0 0 1 114.82 825.30" stroke="#0f5a9f" stroke-width="6.2"/>
<path d="M114.13 824.70A25.5 26.27 0 0 1 105.88 809.52" stroke="#1d3f6f" stroke-width="6.2"/>
<path d="M105.74 808.60A25.5 26.27 0 0 1 107.89 793.90" stroke="#e8413c" stroke-width="6.2"/>
<path d="M108.28 793.07A25.5 26.27 0 0 1 112.84 786.56" stroke="#a31c36" stroke-width="6.2"/>
<path d="M113.61 785.79A25.5 26.27 0 0 1 119.58 781.52" stroke="#e0c7da" stroke-width="6.2"/>
<path d="M121.87 780.48A25.5 26.27 0 0 1 123.12 780.02" stroke="#5cb0bd" stroke-width="6.2"/>
<path d="M124.84 779.51A25.5 26.27 0 0 1 126.13 779.22" stroke="#6a0c20" stroke-width="6.2"/>
<path d="M127.46 778.99A25.5 26.27 0 0 1 128.33 778.88" stroke="#a85c82" stroke-width="6.2"/>
<path d="M129.67 778.77A25.5 26.27 0 0 1 130.11 778.75" stroke="#a5357f" stroke-width="6.2"/>
</g>
<text x="130.6" y="811.2" text-anchor="middle" font-size="12.2">2030</text>
<!-- c-RCR-2045 -->
<g fill="none">
<path d="M279.50 755.03A49.5 50.98 0 0 1 317.69 836.74" stroke="#b5cde1" stroke-width="6.2"/>
<path d="M317.14 837.47A49.5 50.98 0 0 1 267.00 855.66" stroke="#0f5a9f" stroke-width="6.2"/>
<path d="M266.12 855.44A49.5 50.98 0 0 1 232.61 825.86" stroke="#e8413c" stroke-width="6.2"/>
<path d="M232.27 825.00A49.5 50.98 0 0 1 232.36 786.75" stroke="#1d3f6f" stroke-width="6.2"/>
<path d="M232.81 785.65A49.5 50.98 0 0 1 238.92 774.98" stroke="#e0c7da" stroke-width="6.2"/>
<path d="M240.57 772.87A49.5 50.98 0 0 1 248.05 765.56" stroke="#a31c36" stroke-width="6.2"/>
<path d="M249.47 764.48A49.5 50.98 0 0 1 254.56 761.20" stroke="#f0b5a6" stroke-width="6.2"/>
<path d="M256.13 760.36A49.5 50.98 0 0 1 260.85 758.25" stroke="#5cb0bd" stroke-width="6.2"/>
<path d="M262.51 757.64A49.5 50.98 0 0 1 265.79 756.64" stroke="#a85c82" stroke-width="6.2"/>
<path d="M267.50 756.22A49.5 50.98 0 0 1 271.72 755.45" stroke="#6a0c20" stroke-width="6.2"/>
<path d="M273.47 755.25A49.5 50.98 0 0 1 276.02 755.06" stroke="#a5357f" stroke-width="6.2"/>
<path d="M279.50 767.40A37.5 38.62 0 0 1 281.26 844.50" stroke="#b5cde1" stroke-width="6.2"/>
<path d="M280.37 844.56A37.5 38.62 0 0 1 251.54 833.16" stroke="#e8413c" stroke-width="6.2"/>
<path d="M250.91 832.50A37.5 38.62 0 0 1 240.75 808.08" stroke="#0f5a9f" stroke-width="6.2"/>
<path d="M240.72 807.15A37.5 38.62 0 0 1 244.50 789.06" stroke="#1d3f6f" stroke-width="6.2"/>
<path d="M244.99 788.05A37.5 38.62 0 0 1 249.61 781.01" stroke="#e0c7da" stroke-width="6.2"/>
<path d="M250.64 779.81A37.5 38.62 0 0 1 253.75 776.71" stroke="#f0b5a6" stroke-width="6.2"/>
<path d="M254.95 775.69A37.5 38.62 0 0 1 259.63 772.44" stroke="#a31c36" stroke-width="6.2"/>
<path d="M260.99 771.68A37.5 38.62 0 0 1 263.13 770.63" stroke="#5cb0bd" stroke-width="6.2"/>
<path d="M265.18 769.78A37.5 38.62 0 0 1 268.69 768.64" stroke="#6a0c20" stroke-width="6.2"/>
<path d="M270.20 768.26A37.5 38.62 0 0 1 273.18 767.72" stroke="#a85c82" stroke-width="6.2"/>
<path d="M274.73 767.54A37.5 38.62 0 0 1 276.44 767.42" stroke="#a5357f" stroke-width="6.2"/>
<path d="M279.50 779.77A25.5 26.27 0 0 1 283.07 831.78" stroke="#b5cde1" stroke-width="6.2"/>
<path d="M282.18 831.94A25.5 26.27 0 0 1 262.86 826.98" stroke="#0f5a9f" stroke-width="6.2"/>
<path d="M262.15 826.41A25.5 26.27 0 0 1 252.99 809.93" stroke="#e8413c" stroke-width="6.2"/>
<path d="M252.87 809.01A25.5 26.27 0 0 1 256.09 792.91" stroke="#1d3f6f" stroke-width="6.2"/>
<path d="M256.58 792.08A25.5 26.27 0 0 1 260.48 787.11" stroke="#e0c7da" stroke-width="6.2"/>
<path d="M261.81 785.88A25.5 26.27 0 0 1 263.94 784.23" stroke="#a31c36" stroke-width="6.2"/>
<path d="M265.07 783.48A25.5 26.27 0 0 1 266.62 782.60" stroke="#f0b5a6" stroke-width="6.2"/>
<path d="M268.24 781.82A25.5 26.27 0 0 1 269.89 781.17" stroke="#6a0c20" stroke-width="6.2"/>
<path d="M271.18 780.75A25.5 26.27 0 0 1 272.03 780.52" stroke="#5cb0bd" stroke-width="6.2"/>
<path d="M273.78 780.13A25.5 26.27 0 0 1 274.65 779.99" stroke="#a85c82" stroke-width="6.2"/>
<path d="M275.98 779.83A25.5 26.27 0 0 1 276.86 779.77" stroke="#a5357f" stroke-width="6.2"/>
</g>
<text x="278.5" y="811.4" text-anchor="middle" font-size="12.2">2045</text>
<!-- c-RCR-2060 -->
<g fill="none">
<path d="M431.90 755.83A49.5 50.98 0 0 1 477.44 823.30" stroke="#b5cde1" stroke-width="6.2"/>
<path d="M477.14 824.17A49.5 50.98 0 0 1 432.78 857.74" stroke="#0f5a9f" stroke-width="6.2"/>
<path d="M431.88 857.77A49.5 50.98 0 0 1 386.00 828.93" stroke="#e8413c" stroke-width="6.2"/>
<path d="M385.55 827.93A49.5 50.98 0 0 1 383.76 790.30" stroke="#1d3f6f" stroke-width="6.2"/>
<path d="M384.06 789.43A49.5 50.98 0 0 1 390.64 776.70" stroke="#e0c7da" stroke-width="6.2"/>
<path d="M391.34 775.75A49.5 50.98 0 0 1 397.34 769.04" stroke="#f0b5a6" stroke-width="6.2"/>
<path d="M398.47 768.02A49.5 50.98 0 0 1 404.72 763.34" stroke="#a31c36" stroke-width="6.2"/>
<path d="M405.49 762.86A49.5 50.98 0 0 1 412.04 759.53" stroke="#6a0c20" stroke-width="6.2"/>
<path d="M413.28 759.04A49.5 50.98 0 0 1 419.03 757.23" stroke="#a85c82" stroke-width="6.2"/>
<path d="M420.75 756.83A49.5 50.98 0 0 1 425.41 756.10" stroke="#5cb0bd" stroke-width="6.2"/>
<path d="M426.73 755.97A49.5 50.98 0 0 1 429.29 755.83" stroke="#a5357f" stroke-width="6.2"/>
<path d="M431.90 768.20A37.5 38.62 0 0 1 457.48 833.73" stroke="#b5cde1" stroke-width="6.2"/>
<path d="M456.84 834.39A37.5 38.62 0 0 1 419.19 843.59" stroke="#e8413c" stroke-width="6.2"/>
<path d="M418.34 843.30A37.5 38.62 0 0 1 393.95 814.95" stroke="#0f5a9f" stroke-width="6.2"/>
<path d="M393.77 814.05A37.5 38.62 0 0 1 393.63 800.35" stroke="#1d3f6f" stroke-width="6.2"/>
<path d="M393.88 798.98A37.5 38.62 0 0 1 396.99 789.68" stroke="#f0b5a6" stroke-width="6.2"/>
<path d="M397.39 788.85A37.5 38.62 0 0 1 402.87 780.80" stroke="#a31c36" stroke-width="6.2"/>
<path d="M403.48 780.12A37.5 38.62 0 0 1 409.15 775.12" stroke="#e0c7da" stroke-width="6.2"/>
<path d="M410.00 774.52A37.5 38.62 0 0 1 414.94 771.71" stroke="#5cb0bd" stroke-width="6.2"/>
<path d="M416.36 771.07A37.5 38.62 0 0 1 421.03 769.45" stroke="#6a0c20" stroke-width="6.2"/>
<path d="M422.60 769.06A37.5 38.62 0 0 1 424.94 768.62" stroke="#a85c82" stroke-width="6.2"/>
<path d="M426.48 768.41A37.5 38.62 0 0 1 428.84 768.22" stroke="#a5357f" stroke-width="6.2"/>
<path d="M431.90 780.57A25.5 26.27 0 0 1 447.10 826.83" stroke="#b5cde1" stroke-width="6.2"/>
<path d="M446.40 827.42A25.5 26.27 0 0 1 418.87 830.12" stroke="#e8413c" stroke-width="6.2"/>
<path d="M418.08 829.68A25.5 26.27 0 0 1 405.63 812.13" stroke="#0f5a9f" stroke-width="6.2"/>
<path d="M405.46 811.22A25.5 26.27 0 0 1 405.85 800.50" stroke="#1d3f6f" stroke-width="6.2"/>
<path d="M406.09 799.56A25.5 26.27 0 0 1 412.57 788.23" stroke="#e0c7da" stroke-width="6.2"/>
<path d="M413.54 787.28A25.5 26.27 0 0 1 416.86 784.68" stroke="#a31c36" stroke-width="6.2"/>
<path d="M417.85 784.05A25.5 26.27 0 0 1 421.13 782.42" stroke="#6a0c20" stroke-width="6.2"/>
<path d="M422.30 781.96A25.5 26.27 0 0 1 424.00 781.43" stroke="#5cb0bd" stroke-width="6.2"/>
<path d="M425.30 781.11A25.5 26.27 0 0 1 426.61 780.86" stroke="#a85c82" stroke-width="6.2"/>
<path d="M427.94 780.68A25.5 26.27 0 0 1 429.26 780.57" stroke="#a5357f" stroke-width="6.2"/>
</g>
<text x="431.7" y="811.2" text-anchor="middle" font-size="12.2">2060</text>
<!-- d-LIK-2030 -->
<g fill="none">
<path d="M690.90 362.43A49.5 50.98 0 0 1 738.91 417.91" stroke="#b5cde1" stroke-width="6.2"/>
<path d="M738.82 418.84A49.5 50.98 0 0 1 681.11 463.63" stroke="#a5357f" stroke-width="6.2"/>
<path d="M680.22 463.46A49.5 50.98 0 0 1 641.41 425.06" stroke="#e8413c" stroke-width="6.2"/>
<path d="M641.21 424.16A49.5 50.98 0 0 1 649.44 383.59" stroke="#5fa3cc" stroke-width="6.2"/>
<path d="M649.97 382.84A49.5 50.98 0 0 1 660.70 372.01" stroke="#0f5a9f" stroke-width="6.2"/>
<path d="M661.58 371.37A49.5 50.98 0 0 1 668.90 367.09" stroke="#a85c82" stroke-width="6.2"/>
<path d="M669.88 366.64A49.5 50.98 0 0 1 676.27 364.30" stroke="#1d3f6f" stroke-width="6.2"/>
<path d="M678.06 363.82A49.5 50.98 0 0 1 682.27 362.98" stroke="#f0b5a6" stroke-width="6.2"/>
<path d="M684.01 362.74A49.5 50.98 0 0 1 686.56 362.51" stroke="#6a0c20" stroke-width="6.2"/>
<path d="M688.32 362.43A49.5 50.98 0 0 1 689.15 362.42" stroke="#e0c7da" stroke-width="6.2"/>
<path d="M690.90 374.80A37.5 38.62 0 0 1 726.03 422.56" stroke="#b5cde1" stroke-width="6.2"/>
<path d="M725.81 423.45A37.5 38.62 0 0 1 680.33 450.83" stroke="#a5357f" stroke-width="6.2"/>
<path d="M679.46 450.59A37.5 38.62 0 0 1 653.16 422.54" stroke="#e8413c" stroke-width="6.2"/>
<path d="M652.96 421.64A37.5 38.62 0 0 1 659.50 390.36" stroke="#5fa3cc" stroke-width="6.2"/>
<path d="M660.04 389.63A37.5 38.62 0 0 1 667.67 382.07" stroke="#0f5a9f" stroke-width="6.2"/>
<path d="M668.46 381.50A37.5 38.62 0 0 1 673.46 378.53" stroke="#a85c82" stroke-width="6.2"/>
<path d="M674.76 377.93A37.5 38.62 0 0 1 679.52 376.20" stroke="#1d3f6f" stroke-width="6.2"/>
<path d="M680.97 375.81A37.5 38.62 0 0 1 683.94 375.22" stroke="#f0b5a6" stroke-width="6.2"/>
<path d="M686.13 374.94A37.5 38.62 0 0 1 687.19 374.85" stroke="#6a0c20" stroke-width="6.2"/>
<path d="M690.90 387.17A25.5 26.27 0 0 1 715.00 415.73" stroke="#b5cde1" stroke-width="6.2"/>
<path d="M714.90 416.65A25.5 26.27 0 0 1 685.09 439.25" stroke="#a5357f" stroke-width="6.2"/>
<path d="M684.21 439.07A25.5 26.27 0 0 1 664.89 419.89" stroke="#e8413c" stroke-width="6.2"/>
<path d="M664.68 418.99A25.5 26.27 0 0 1 669.23 397.60" stroke="#5fa3cc" stroke-width="6.2"/>
<path d="M669.79 396.87A25.5 26.27 0 0 1 674.61 392.15" stroke="#0f5a9f" stroke-width="6.2"/>
<path d="M675.34 391.62A25.5 26.27 0 0 1 678.58 389.72" stroke="#a85c82" stroke-width="6.2"/>
<path d="M679.64 389.22A25.5 26.27 0 0 1 682.31 388.23" stroke="#1d3f6f" stroke-width="6.2"/>
<path d="M683.87 387.81A25.5 26.27 0 0 1 685.61 387.46" stroke="#f0b5a6" stroke-width="6.2"/>
<path d="M686.94 387.28A25.5 26.27 0 0 1 687.82 387.20" stroke="#6a0c20" stroke-width="6.2"/>
</g>
<text x="691.2" y="418.8" text-anchor="middle" font-size="12.2">2030</text>
<!-- d-LIK-2045 -->
<g fill="none">
<path d="M842.00 362.03A49.5 50.98 0 0 1 889.74 419.90" stroke="#a5357f" stroke-width="6.2"/>
<path d="M889.61 420.82A49.5 50.98 0 0 1 834.51 463.59" stroke="#b5cde1" stroke-width="6.2"/>
<path d="M833.62 463.46A49.5 50.98 0 0 1 791.59 419.41" stroke="#e8413c" stroke-width="6.2"/>
<path d="M791.49 418.49A49.5 50.98 0 0 1 802.49 380.58" stroke="#5fa3cc" stroke-width="6.2"/>
<path d="M803.07 379.87A49.5 50.98 0 0 1 812.65 370.99" stroke="#0f5a9f" stroke-width="6.2"/>
<path d="M813.39 370.47A49.5 50.98 0 0 1 821.34 366.08" stroke="#a85c82" stroke-width="6.2"/>
<path d="M822.57 365.56A49.5 50.98 0 0 1 828.04 363.71" stroke="#1d3f6f" stroke-width="6.2"/>
<path d="M830.00 363.22A49.5 50.98 0 0 1 833.54 362.55" stroke="#f0b5a6" stroke-width="6.2"/>
<path d="M835.11 362.34A49.5 50.98 0 0 1 836.80 362.17" stroke="#e0c7da" stroke-width="6.2"/>
<path d="M838.56 362.06A49.5 50.98 0 0 1 839.39 362.03" stroke="#6a0c20" stroke-width="6.2"/>
<path d="M842.00 374.40A37.5 38.62 0 0 1 876.26 425.26" stroke="#b5cde1" stroke-width="6.2"/>
<path d="M875.96 426.14A37.5 38.62 0 0 1 829.98 450.01" stroke="#a5357f" stroke-width="6.2"/>
<path d="M829.12 449.74A37.5 38.62 0 0 1 803.32 416.09" stroke="#e8413c" stroke-width="6.2"/>
<path d="M803.26 415.16A37.5 38.62 0 0 1 812.79 387.20" stroke="#5fa3cc" stroke-width="6.2"/>
<path d="M813.58 386.32A37.5 38.62 0 0 1 819.36 381.24" stroke="#a85c82" stroke-width="6.2"/>
<path d="M820.10 380.72A37.5 38.62 0 0 1 827.02 377.03" stroke="#0f5a9f" stroke-width="6.2"/>
<path d="M828.30 376.55A37.5 38.62 0 0 1 832.40 375.33" stroke="#f0b5a6" stroke-width="6.2"/>
<path d="M833.99 375.00A37.5 38.62 0 0 1 835.68 374.72" stroke="#1d3f6f" stroke-width="6.2"/>
<path d="M838.53 374.44A37.5 38.62 0 0 1 838.94 374.42" stroke="#6a0c20" stroke-width="6.2"/>
<path d="M842.00 386.77A25.5 26.27 0 0 1 866.16 414.46" stroke="#a5357f" stroke-width="6.2"/>
<path d="M866.09 415.39A25.5 26.27 0 0 1 837.29 439.03" stroke="#b5cde1" stroke-width="6.2"/>
<path d="M836.40 438.89A25.5 26.27 0 0 1 815.53 417.20" stroke="#e8413c" stroke-width="6.2"/>
<path d="M815.40 416.29A25.5 26.27 0 0 1 821.34 395.91" stroke="#5fa3cc" stroke-width="6.2"/>
<path d="M822.05 395.08A25.5 26.27 0 0 1 825.60 391.84" stroke="#0f5a9f" stroke-width="6.2"/>
<path d="M826.44 391.22A25.5 26.27 0 0 1 830.49 388.93" stroke="#a85c82" stroke-width="6.2"/>
<path d="M831.98 388.32A25.5 26.27 0 0 1 833.24 387.88" stroke="#f0b5a6" stroke-width="6.2"/>
<path d="M834.97 387.41A25.5 26.27 0 0 1 836.27 387.13" stroke="#1d3f6f" stroke-width="6.2"/>
<path d="M838.93 386.80A25.5 26.27 0 0 1 839.36 386.77" stroke="#6a0c20" stroke-width="6.2"/>
</g>
<text x="840.1" y="418.8" text-anchor="middle" font-size="12.2">2045</text>
<!-- d-LIK-2060 -->
<g fill="none">
<path d="M989.60 360.63A49.5 50.98 0 0 1 1037.32 418.68" stroke="#a5357f" stroke-width="6.2"/>
<path d="M1037.19 419.59A49.5 50.98 0 0 1 982.29 462.21" stroke="#b5cde1" stroke-width="6.2"/>
<path d="M981.39 462.09A49.5 50.98 0 0 1 939.13 417.48" stroke="#e8413c" stroke-width="6.2"/>
<path d="M939.03 416.56A49.5 50.98 0 0 1 950.48 378.71" stroke="#5fa3cc" stroke-width="6.2"/>
<path d="M951.24 377.80A49.5 50.98 0 0 1 960.46 369.44" stroke="#0f5a9f" stroke-width="6.2"/>
<path d="M961.72 368.59A49.5 50.98 0 0 1 969.18 364.57" stroke="#a85c82" stroke-width="6.2"/>
<path d="M970.17 364.16A49.5 50.98 0 0 1 974.97 362.50" stroke="#1d3f6f" stroke-width="6.2"/>
<path d="M976.76 362.02A49.5 50.98 0 0 1 983.97 360.81" stroke="#f0b5a6" stroke-width="6.2"/>
<path d="M985.30 360.71A49.5 50.98 0 0 1 986.99 360.63" stroke="#6a0c20" stroke-width="6.2"/>
<path d="M989.60 373.00A37.5 38.62 0 0 1 1024.08 423.16" stroke="#b5cde1" stroke-width="6.2"/>
<path d="M1023.80 424.04A37.5 38.62 0 0 1 977.64 448.63" stroke="#a5357f" stroke-width="6.2"/>
<path d="M976.78 448.36A37.5 38.62 0 0 1 950.88 414.08" stroke="#e8413c" stroke-width="6.2"/>
<path d="M950.83 413.16A37.5 38.62 0 0 1 960.18 386.05" stroke="#5fa3cc" stroke-width="6.2"/>
<path d="M960.78 385.36A37.5 38.62 0 0 1 967.12 379.73" stroke="#a85c82" stroke-width="6.2"/>
<path d="M968.25 378.96A37.5 38.62 0 0 1 974.87 375.54" stroke="#0f5a9f" stroke-width="6.2"/>
<path d="M975.90 375.15A37.5 38.62 0 0 1 979.43 374.07" stroke="#f0b5a6" stroke-width="6.2"/>
<path d="M980.94 373.73A37.5 38.62 0 0 1 982.64 373.42" stroke="#1d3f6f" stroke-width="6.2"/>
<path d="M986.79 373.01A37.5 38.62 0 0 1 987.20 372.99" stroke="#6a0c20" stroke-width="6.2"/>
<path d="M989.60 385.37A25.5 26.27 0 0 1 1013.79 412.42" stroke="#a5357f" stroke-width="6.2"/>
<path d="M1013.74 413.35A25.5 26.27 0 0 1 984.45 437.56" stroke="#b5cde1" stroke-width="6.2"/>
<path d="M983.56 437.41A25.5 26.27 0 0 1 963.05 415.26" stroke="#e8413c" stroke-width="6.2"/>
<path d="M962.94 414.34A25.5 26.27 0 0 1 969.05 394.37" stroke="#5fa3cc" stroke-width="6.2"/>
<path d="M969.65 393.68A25.5 26.27 0 0 1 973.34 390.33" stroke="#0f5a9f" stroke-width="6.2"/>
<path d="M974.08 389.80A25.5 26.27 0 0 1 978.29 387.44" stroke="#a85c82" stroke-width="6.2"/>
<path d="M979.58 386.92A25.5 26.27 0 0 1 980.84 386.48" stroke="#e0c7da" stroke-width="6.2"/>
<path d="M982.57 386.01A25.5 26.27 0 0 1 983.87 385.73" stroke="#1d3f6f" stroke-width="6.2"/>
<path d="M986.97 385.37A25.5 26.27 0 0 1 987.19 385.36" stroke="#6a0c20" stroke-width="6.2"/>
</g>
<text x="990.1" y="418.8" text-anchor="middle" font-size="12.2">2060</text>
<!-- d-NFP-2030 -->
<g fill="none">
<path d="M689.30 492.33A49.5 50.98 0 0 1 694.65 593.82" stroke="#b5cde1" stroke-width="6.2"/>
<path d="M693.76 593.94A49.5 50.98 0 0 1 657.74 583.65" stroke="#e8413c" stroke-width="6.2"/>
<path d="M657.04 583.08A49.5 50.98 0 0 1 639.18 551.73" stroke="#0f5a9f" stroke-width="6.2"/>
<path d="M639.04 550.82A49.5 50.98 0 0 1 639.80 531.68" stroke="#1d3f6f" stroke-width="6.2"/>
<path d="M640.08 530.52A49.5 50.98 0 0 1 646.34 515.77" stroke="#a31c36" stroke-width="6.2"/>
<path d="M647.22 514.41A49.5 50.98 0 0 1 655.51 504.83" stroke="#e0c7da" stroke-width="6.2"/>
<path d="M656.53 503.95A49.5 50.98 0 0 1 662.34 499.70" stroke="#5cb0bd" stroke-width="6.2"/>
<path d="M663.64 498.92A49.5 50.98 0 0 1 670.24 495.71" stroke="#f0b5a6" stroke-width="6.2"/>
<path d="M671.49 495.23A49.5 50.98 0 0 1 676.85 493.63" stroke="#6a0c20" stroke-width="6.2"/>
<path d="M678.15 493.33A49.5 50.98 0 0 1 681.52 492.75" stroke="#a5357f" stroke-width="6.2"/>
<path d="M683.27 492.55A49.5 50.98 0 0 1 686.69 492.33" stroke="#a85c82" stroke-width="6.2"/>
<path d="M689.30 504.70A37.5 38.62 0 0 1 687.40 581.92" stroke="#b5cde1" stroke-width="6.2"/>
<path d="M686.50 581.89A37.5 38.62 0 0 1 662.28 571.40" stroke="#e8413c" stroke-width="6.2"/>
<path d="M661.63 570.76A37.5 38.62 0 0 1 650.68 547.06" stroke="#0f5a9f" stroke-width="6.2"/>
<path d="M650.60 546.14A37.5 38.62 0 0 1 651.80 533.23" stroke="#1d3f6f" stroke-width="6.2"/>
<path d="M652.08 532.21A37.5 38.62 0 0 1 656.92 521.69" stroke="#a31c36" stroke-width="6.2"/>
<path d="M657.54 520.77A37.5 38.62 0 0 1 664.00 513.62" stroke="#e0c7da" stroke-width="6.2"/>
<path d="M664.75 512.99A37.5 38.62 0 0 1 668.52 510.29" stroke="#5cb0bd" stroke-width="6.2"/>
<path d="M669.64 509.62A37.5 38.62 0 0 1 675.00 507.07" stroke="#f0b5a6" stroke-width="6.2"/>
<path d="M676.22 506.63A37.5 38.62 0 0 1 679.76 505.62" stroke="#6a0c20" stroke-width="6.2"/>
<path d="M681.29 505.30A37.5 38.62 0 0 1 683.63 504.94" stroke="#a5357f" stroke-width="6.2"/>
<path d="M685.18 504.78A37.5 38.62 0 0 1 686.24 504.72" stroke="#a85c82" stroke-width="6.2"/>
<path d="M689.30 517.07A25.5 26.27 0 0 1 691.16 569.36" stroke="#b5cde1" stroke-width="6.2"/>
<path d="M690.26 569.46A25.5 26.27 0 0 1 672.91 564.47" stroke="#e8413c" stroke-width="6.2"/>
<path d="M672.19 563.91A25.5 26.27 0 0 1 662.75 546.96" stroke="#0f5a9f" stroke-width="6.2"/>
<path d="M662.64 546.04A25.5 26.27 0 0 1 663.31 536.73" stroke="#1d3f6f" stroke-width="6.2"/>
<path d="M663.62 535.62A25.5 26.27 0 0 1 666.61 529.00" stroke="#a31c36" stroke-width="6.2"/>
<path d="M667.37 527.86A25.5 26.27 0 0 1 670.93 523.78" stroke="#e0c7da" stroke-width="6.2"/>
<path d="M671.96 522.89A25.5 26.27 0 0 1 675.36 520.49" stroke="#5cb0bd" stroke-width="6.2"/>
<path d="M676.43 519.90A25.5 26.27 0 0 1 678.86 518.78" stroke="#f0b5a6" stroke-width="6.2"/>
<path d="M680.12 518.32A25.5 26.27 0 0 1 682.26 517.71" stroke="#6a0c20" stroke-width="6.2"/>
<path d="M684.02 517.36A25.5 26.27 0 0 1 684.89 517.23" stroke="#a5357f" stroke-width="6.2"/>
<path d="M686.23 517.10A25.5 26.27 0 0 1 686.66 517.07" stroke="#a85c82" stroke-width="6.2"/>
</g>
<text x="690.3" y="550.2" text-anchor="middle" font-size="12.2">2030</text>
<!-- d-NFP-2045 -->
<g fill="none">
<path d="M839.60 494.03A49.5 50.98 0 0 1 847.76 595.04" stroke="#b5cde1" stroke-width="6.2"/>
<path d="M846.88 595.21A49.5 50.98 0 0 1 806.30 583.90" stroke="#e8413c" stroke-width="6.2"/>
<path d="M805.62 583.29A49.5 50.98 0 0 1 789.56 553.87" stroke="#0f5a9f" stroke-width="6.2"/>
<path d="M789.41 552.96A49.5 50.98 0 0 1 790.08 533.46" stroke="#1d3f6f" stroke-width="6.2"/>
<path d="M790.38 532.22A49.5 50.98 0 0 1 795.21 519.91" stroke="#e0c7da" stroke-width="6.2"/>
<path d="M795.66 519.11A49.5 50.98 0 0 1 803.10 509.15" stroke="#a31c36" stroke-width="6.2"/>
<path d="M804.24 508.00A49.5 50.98 0 0 1 811.54 502.11" stroke="#f0b5a6" stroke-width="6.2"/>
<path d="M812.45 501.52A49.5 50.98 0 0 1 819.02 498.04" stroke="#5cb0bd" stroke-width="6.2"/>
<path d="M820.17 497.56A49.5 50.98 0 0 1 826.22 495.56" stroke="#6a0c20" stroke-width="6.2"/>
<path d="M827.60 495.22A49.5 50.98 0 0 1 830.97 494.58" stroke="#a85c82" stroke-width="6.2"/>
<path d="M832.71 494.34A49.5 50.98 0 0 1 836.12 494.06" stroke="#a5357f" stroke-width="6.2"/>
<path d="M839.60 506.40A37.5 38.62 0 1 1 834.83 583.46" stroke="#b5cde1" stroke-width="6.2"/>
<path d="M833.93 583.36A37.5 38.62 0 0 1 808.87 568.93" stroke="#e8413c" stroke-width="6.2"/>
<path d="M808.32 568.20A37.5 38.62 0 0 1 800.83 546.54" stroke="#0f5a9f" stroke-width="6.2"/>
<path d="M800.80 545.62A37.5 38.62 0 0 1 802.87 532.35" stroke="#1d3f6f" stroke-width="6.2"/>
<path d="M803.22 531.35A37.5 38.62 0 0 1 806.96 523.79" stroke="#e0c7da" stroke-width="6.2"/>
<path d="M807.84 522.47A37.5 38.62 0 0 1 814.00 515.58" stroke="#a31c36" stroke-width="6.2"/>
<path d="M815.05 514.69A37.5 38.62 0 0 1 819.44 511.61" stroke="#f0b5a6" stroke-width="6.2"/>
<path d="M820.51 511.00A37.5 38.62 0 0 1 825.30 508.77" stroke="#5cb0bd" stroke-width="6.2"/>
<path d="M826.52 508.33A37.5 38.62 0 0 1 829.43 507.47" stroke="#6a0c20" stroke-width="6.2"/>
<path d="M830.94 507.13A37.5 38.62 0 0 1 833.28 506.72" stroke="#a85c82" stroke-width="6.2"/>
<path d="M834.83 506.54A37.5 38.62 0 0 1 836.54 506.42" stroke="#a5357f" stroke-width="6.2"/>
<path d="M839.60 518.77A25.5 26.27 0 0 1 841.77 571.02" stroke="#b5cde1" stroke-width="6.2"/>
<path d="M840.87 571.13A25.5 26.27 0 0 1 821.44 564.71" stroke="#e8413c" stroke-width="6.2"/>
<path d="M820.78 564.08A25.5 26.27 0 0 1 813.01 548.39" stroke="#0f5a9f" stroke-width="6.2"/>
<path d="M812.91 547.47A25.5 26.27 0 0 1 813.55 538.70" stroke="#1d3f6f" stroke-width="6.2"/>
<path d="M813.79 537.76A25.5 26.27 0 0 1 816.67 531.09" stroke="#e0c7da" stroke-width="6.2"/>
<path d="M817.41 529.93A25.5 26.27 0 0 1 821.10 525.61" stroke="#a31c36" stroke-width="6.2"/>
<path d="M821.91 524.88A25.5 26.27 0 0 1 824.41 522.98" stroke="#f0b5a6" stroke-width="6.2"/>
<path d="M825.94 522.03A25.5 26.27 0 0 1 828.33 520.82" stroke="#5cb0bd" stroke-width="6.2"/>
<path d="M830.00 520.16A25.5 26.27 0 0 1 831.70 519.63" stroke="#6a0c20" stroke-width="6.2"/>
<path d="M833.44 519.22A25.5 26.27 0 0 1 834.31 519.06" stroke="#a85c82" stroke-width="6.2"/>
<path d="M836.08 518.83A25.5 26.27 0 0 1 836.96 518.77" stroke="#a5357f" stroke-width="6.2"/>
</g>
<text x="840.3" y="550.2" text-anchor="middle" font-size="12.2">2045</text>
<!-- d-NFP-2060 -->
<g fill="none">
<path d="M992.70 491.83A49.5 50.98 0 0 1 1000.86 592.84" stroke="#b5cde1" stroke-width="6.2"/>
<path d="M999.98 593.01A49.5 50.98 0 0 1 958.55 580.94" stroke="#e8413c" stroke-width="6.2"/>
<path d="M957.88 580.32A49.5 50.98 0 0 1 942.57 551.15" stroke="#0f5a9f" stroke-width="6.2"/>
<path d="M942.43 550.23A49.5 50.98 0 0 1 943.03 531.96" stroke="#1d3f6f" stroke-width="6.2"/>
<path d="M943.27 530.88A49.5 50.98 0 0 1 948.10 518.10" stroke="#e0c7da" stroke-width="6.2"/>
<path d="M948.76 516.91A49.5 50.98 0 0 1 955.72 507.46" stroke="#a31c36" stroke-width="6.2"/>
<path d="M956.72 506.42A49.5 50.98 0 0 1 964.06 500.29" stroke="#f0b5a6" stroke-width="6.2"/>
<path d="M965.55 499.32A49.5 50.98 0 0 1 972.20 495.81" stroke="#5cb0bd" stroke-width="6.2"/>
<path d="M973.27 495.36A49.5 50.98 0 0 1 979.58 493.29" stroke="#6a0c20" stroke-width="6.2"/>
<path d="M980.70 493.02A49.5 50.98 0 0 1 984.07 492.38" stroke="#a85c82" stroke-width="6.2"/>
<path d="M986.67 492.05A49.5 50.98 0 0 1 989.22 491.86" stroke="#a5357f" stroke-width="6.2"/>
<path d="M992.70 504.20A37.5 38.62 0 1 1 987.73 581.24" stroke="#b5cde1" stroke-width="6.2"/>
<path d="M986.84 581.14A37.5 38.62 0 0 1 961.84 566.57" stroke="#e8413c" stroke-width="6.2"/>
<path d="M961.30 565.84A37.5 38.62 0 0 1 953.91 543.67" stroke="#0f5a9f" stroke-width="6.2"/>
<path d="M953.90 542.74A37.5 38.62 0 0 1 955.92 530.28" stroke="#1d3f6f" stroke-width="6.2"/>
<path d="M956.32 529.15A37.5 38.62 0 0 1 960.17 521.42" stroke="#e0c7da" stroke-width="6.2"/>
<path d="M960.94 520.27A37.5 38.62 0 0 1 966.27 514.14" stroke="#a31c36" stroke-width="6.2"/>
<path d="M967.14 513.35A37.5 38.62 0 0 1 972.26 509.58" stroke="#f0b5a6" stroke-width="6.2"/>
<path d="M973.61 508.80A37.5 38.62 0 0 1 978.15 506.67" stroke="#5cb0bd" stroke-width="6.2"/>
<path d="M979.62 506.13A37.5 38.62 0 0 1 982.53 505.27" stroke="#6a0c20" stroke-width="6.2"/>
<path d="M984.04 504.93A37.5 38.62 0 0 1 986.38 504.52" stroke="#a85c82" stroke-width="6.2"/>
<path d="M987.93 504.34A37.5 38.62 0 0 1 989.64 504.22" stroke="#a5357f" stroke-width="6.2"/>
<path d="M992.70 516.57A25.5 26.27 0 0 1 995.26 568.76" stroke="#b5cde1" stroke-width="6.2"/>
<path d="M994.37 568.89A25.5 26.27 0 0 1 975.08 562.98" stroke="#e8413c" stroke-width="6.2"/>
<path d="M974.40 562.38A25.5 26.27 0 0 1 966.12 546.23" stroke="#0f5a9f" stroke-width="6.2"/>
<path d="M966.02 545.31A25.5 26.27 0 0 1 966.49 537.16" stroke="#1d3f6f" stroke-width="6.2"/>
<path d="M966.77 536.00A25.5 26.27 0 0 1 969.36 529.59" stroke="#e0c7da" stroke-width="6.2"/>
<path d="M970.02 528.49A25.5 26.27 0 0 1 973.37 524.23" stroke="#a31c36" stroke-width="6.2"/>
<path d="M974.34 523.28A25.5 26.27 0 0 1 976.77 521.29" stroke="#f0b5a6" stroke-width="6.2"/>
<path d="M978.27 520.28A25.5 26.27 0 0 1 981.43 518.62" stroke="#5cb0bd" stroke-width="6.2"/>
<path d="M982.68 518.12A25.5 26.27 0 0 1 984.37 517.55" stroke="#6a0c20" stroke-width="6.2"/>
<path d="M986.10 517.11A25.5 26.27 0 0 1 987.41 516.86" stroke="#a85c82" stroke-width="6.2"/>
<path d="M989.18 516.63A25.5 26.27 0 0 1 990.06 516.57" stroke="#a5357f" stroke-width="6.2"/>
</g>
<text x="992.2" y="550.2" text-anchor="middle" font-size="12.2">2060</text>
<!-- d-LZJ-2030 -->
<g fill="none">
<path d="M690.70 623.73A49.5 50.98 0 1 1 654.72 711.08" stroke="#b5cde1" stroke-width="6.2"/>
<path d="M654.08 710.42A49.5 50.98 0 0 1 643.12 656.61" stroke="#a31c36" stroke-width="6.2"/>
<path d="M643.45 655.75A49.5 50.98 0 0 1 670.84 627.43" stroke="#0f5a9f" stroke-width="6.2"/>
<path d="M672.08 626.94A49.5 50.98 0 0 1 676.99 625.34" stroke="#1d3f6f" stroke-width="6.2"/>
<path d="M678.70 624.92A49.5 50.98 0 0 1 680.36 624.57" stroke="#a85c82" stroke-width="6.2"/>
<path d="M682.10 624.27A49.5 50.98 0 0 1 685.50 623.87" stroke="#e8413c" stroke-width="6.2"/>
<path d="M687.26 623.76A49.5 50.98 0 0 1 688.09 623.73" stroke="#e0c7da" stroke-width="6.2"/>
<path d="M690.70 636.10A37.5 38.62 0 1 1 659.60 698.15" stroke="#b5cde1" stroke-width="6.2"/>
<path d="M659.07 697.41A37.5 38.62 0 0 1 655.33 658.55" stroke="#a31c36" stroke-width="6.2"/>
<path d="M655.72 657.71A37.5 38.62 0 0 1 675.36 638.88" stroke="#0f5a9f" stroke-width="6.2"/>
<path d="M676.38 638.48A37.5 38.62 0 0 1 679.89 637.34" stroke="#1d3f6f" stroke-width="6.2"/>
<path d="M682.04 636.83A37.5 38.62 0 0 1 683.09 636.63" stroke="#a85c82" stroke-width="6.2"/>
<path d="M684.63 636.39A37.5 38.62 0 0 1 686.34 636.20" stroke="#e8413c" stroke-width="6.2"/>
<path d="M690.70 648.47A25.5 26.27 0 1 1 671.40 693.31" stroke="#b5cde1" stroke-width="6.2"/>
<path d="M670.78 692.64A25.5 26.27 0 0 1 665.17 666.50" stroke="#a31c36" stroke-width="6.2"/>
<path d="M665.47 665.63A25.5 26.27 0 0 1 679.80 650.37" stroke="#0f5a9f" stroke-width="6.2"/>
<path d="M680.68 650.02A25.5 26.27 0 0 1 682.80 649.33" stroke="#1d3f6f" stroke-width="6.2"/>
<path d="M684.54 648.92A25.5 26.27 0 0 1 684.97 648.83" stroke="#a85c82" stroke-width="6.2"/>
<path d="M686.30 648.63A25.5 26.27 0 0 1 687.17 648.54" stroke="#e8413c" stroke-width="6.2"/>
</g>
<text x="690.3" y="681.2" text-anchor="middle" font-size="12.2">2030</text>
<!-- d-LZJ-2045 -->
<g fill="none">
<path d="M840.00 622.63A49.5 50.98 0 1 1 796.19 699.72" stroke="#b5cde1" stroke-width="6.2"/>
<path d="M795.74 698.92A49.5 50.98 0 0 1 792.24 656.01" stroke="#a31c36" stroke-width="6.2"/>
<path d="M792.56 655.15A49.5 50.98 0 0 1 815.67 628.47" stroke="#0f5a9f" stroke-width="6.2"/>
<path d="M816.63 627.96A49.5 50.98 0 0 1 822.40 625.46" stroke="#1d3f6f" stroke-width="6.2"/>
<path d="M823.83 624.97A49.5 50.98 0 0 1 828.31 623.75" stroke="#e8413c" stroke-width="6.2"/>
<path d="M829.70 623.47A49.5 50.98 0 0 1 833.94 622.85" stroke="#a85c82" stroke-width="6.2"/>
<path d="M835.70 622.71A49.5 50.98 0 0 1 836.52 622.66" stroke="#e0c7da" stroke-width="6.2"/>
<path d="M840.00 635.00A37.5 38.62 0 1 1 801.61 679.30" stroke="#b5cde1" stroke-width="6.2"/>
<path d="M801.49 678.38A37.5 38.62 0 0 1 807.65 651.94" stroke="#a31c36" stroke-width="6.2"/>
<path d="M808.17 651.18A37.5 38.62 0 0 1 823.45 638.31" stroke="#0f5a9f" stroke-width="6.2"/>
<path d="M824.46 637.87A37.5 38.62 0 0 1 827.31 636.80" stroke="#a85c82" stroke-width="6.2"/>
<path d="M829.43 636.17A37.5 38.62 0 0 1 831.10 635.78" stroke="#e8413c" stroke-width="6.2"/>
<path d="M833.28 635.38A37.5 38.62 0 0 1 834.98 635.17" stroke="#1d3f6f" stroke-width="6.2"/>
<path d="M840.00 647.37A25.5 26.27 0 1 1 815.44 684.37" stroke="#b5cde1" stroke-width="6.2"/>
<path d="M815.09 683.52A25.5 26.27 0 0 1 814.88 664.24" stroke="#a31c36" stroke-width="6.2"/>
<path d="M815.21 663.37A25.5 26.27 0 0 1 827.20 650.16" stroke="#0f5a9f" stroke-width="6.2"/>
<path d="M828.33 649.60A25.5 26.27 0 0 1 829.97 648.92" stroke="#a85c82" stroke-width="6.2"/>
<path d="M831.68 648.35A25.5 26.27 0 0 1 832.53 648.12" stroke="#1d3f6f" stroke-width="6.2"/>
<path d="M834.28 647.73A25.5 26.27 0 0 1 835.59 647.53" stroke="#e8413c" stroke-width="6.2"/>
</g>
<text x="839.0" y="679.9" text-anchor="middle" font-size="12.2">2045</text>
<!-- d-LZJ-2060 -->
<g fill="none">
<path d="M988.30 624.43A49.5 50.98 0 1 1 945.03 702.43" stroke="#b5cde1" stroke-width="6.2"/>
<path d="M944.56 701.64A49.5 50.98 0 0 1 940.16 658.90" stroke="#a31c36" stroke-width="6.2"/>
<path d="M940.46 658.03A49.5 50.98 0 0 1 964.59 629.94" stroke="#0f5a9f" stroke-width="6.2"/>
<path d="M965.71 629.37A49.5 50.98 0 0 1 971.03 627.14" stroke="#1d3f6f" stroke-width="6.2"/>
<path d="M972.13 626.77A49.5 50.98 0 0 1 975.68 625.77" stroke="#e8413c" stroke-width="6.2"/>
<path d="M977.15 625.43A49.5 50.98 0 0 1 982.67 624.61" stroke="#a85c82" stroke-width="6.2"/>
<path d="M984.86 624.46A49.5 50.98 0 0 1 985.69 624.43" stroke="#e0c7da" stroke-width="6.2"/>
<path d="M988.30 636.80A37.5 38.62 0 1 1 949.99 681.63" stroke="#b5cde1" stroke-width="6.2"/>
<path d="M949.86 680.72A37.5 38.62 0 0 1 955.66 654.19" stroke="#a31c36" stroke-width="6.2"/>
<path d="M956.16 653.42A37.5 38.62 0 0 1 972.05 639.98" stroke="#0f5a9f" stroke-width="6.2"/>
<path d="M973.37 639.42A37.5 38.62 0 0 1 975.61 638.60" stroke="#a85c82" stroke-width="6.2"/>
<path d="M977.10 638.15A37.5 38.62 0 0 1 979.40 637.58" stroke="#e8413c" stroke-width="6.2"/>
<path d="M980.93 637.28A37.5 38.62 0 0 1 982.63 637.04" stroke="#0f5a9f" stroke-width="6.2"/>
<path d="M988.30 649.17A25.5 26.27 0 1 1 964.28 687.33" stroke="#b5cde1" stroke-width="6.2"/>
<path d="M963.89 686.50A25.5 26.27 0 0 1 963.19 665.99" stroke="#a31c36" stroke-width="6.2"/>
<path d="M963.53 665.13A25.5 26.27 0 0 1 975.54 651.94" stroke="#0f5a9f" stroke-width="6.2"/>
<path d="M976.63 651.40A25.5 26.27 0 0 1 978.27 650.72" stroke="#a85c82" stroke-width="6.2"/>
<path d="M979.98 650.15A25.5 26.27 0 0 1 980.83 649.92" stroke="#1d3f6f" stroke-width="6.2"/>
<path d="M982.58 649.53A25.5 26.27 0 0 1 983.89 649.33" stroke="#e8413c" stroke-width="6.2"/>
</g>
<text x="989.0" y="681.2" text-anchor="middle" font-size="12.2">2060</text>
<!-- d-RCR-2030 -->
<g fill="none">
<path d="M690.00 755.43A49.5 50.98 0 1 1 669.53 853.41" stroke="#b5cde1" stroke-width="6.2"/>
<path d="M668.71 853.04A49.5 50.98 0 0 1 642.56 824.85" stroke="#0f5a9f" stroke-width="6.2"/>
<path d="M642.24 823.99A49.5 50.98 0 0 1 640.69 794.00" stroke="#1d3f6f" stroke-width="6.2"/>
<path d="M641.01 792.76A49.5 50.98 0 0 1 653.87 770.17" stroke="#e8413c" stroke-width="6.2"/>
<path d="M654.64 769.40A49.5 50.98 0 0 1 661.73 763.65" stroke="#a31c36" stroke-width="6.2"/>
<path d="M662.85 762.92A49.5 50.98 0 0 1 673.72 757.81" stroke="#e0c7da" stroke-width="6.2"/>
<path d="M674.66 757.51A49.5 50.98 0 0 1 677.97 756.63" stroke="#5cb0bd" stroke-width="6.2"/>
<path d="M679.70 756.27A49.5 50.98 0 0 1 682.22 755.85" stroke="#6a0c20" stroke-width="6.2"/>
<path d="M683.97 755.65A49.5 50.98 0 0 1 686.52 755.46" stroke="#a85c82" stroke-width="6.2"/>
<path d="M690.00 767.80A37.5 38.62 0 1 1 676.48 842.92" stroke="#b5cde1" stroke-width="6.2"/>
<path d="M675.64 842.61A37.5 38.62 0 0 1 657.50 827.82" stroke="#0f5a9f" stroke-width="6.2"/>
<path d="M657.01 827.05A37.5 38.62 0 0 1 651.21 805.65" stroke="#e8413c" stroke-width="6.2"/>
<path d="M651.24 804.72A37.5 38.62 0 0 1 656.83 786.04" stroke="#1d3f6f" stroke-width="6.2"/>
<path d="M657.50 784.98A37.5 38.62 0 0 1 662.99 778.28" stroke="#a31c36" stroke-width="6.2"/>
<path d="M663.94 777.39A37.5 38.62 0 0 1 669.00 773.53" stroke="#e0c7da" stroke-width="6.2"/>
<path d="M669.77 773.06A37.5 38.62 0 0 1 674.96 770.46" stroke="#f0b5a6" stroke-width="6.2"/>
<path d="M676.30 769.95A37.5 38.62 0 0 1 679.19 769.04" stroke="#5cb0bd" stroke-width="6.2"/>
<path d="M680.70 768.66A37.5 38.62 0 0 1 683.04 768.22" stroke="#6a0c20" stroke-width="6.2"/>
<path d="M684.58 768.01A37.5 38.62 0 0 1 686.94 767.82" stroke="#a85c82" stroke-width="6.2"/>
<path d="M690.00 780.17A25.5 26.27 0 1 1 683.80 832.17" stroke="#b5cde1" stroke-width="6.2"/>
<path d="M682.92 831.98A25.5 26.27 0 0 1 668.97 823.04" stroke="#0f5a9f" stroke-width="6.2"/>
<path d="M668.41 822.31A25.5 26.27 0 0 1 663.20 806.36" stroke="#e8413c" stroke-width="6.2"/>
<path d="M663.22 805.43A25.5 26.27 0 0 1 666.66 793.19" stroke="#1d3f6f" stroke-width="6.2"/>
<path d="M667.12 792.40A25.5 26.27 0 0 1 671.83 786.70" stroke="#a31c36" stroke-width="6.2"/>
<path d="M672.66 785.99A25.5 26.27 0 0 1 678.45 782.35" stroke="#e0c7da" stroke-width="6.2"/>
<path d="M679.57 781.88A25.5 26.27 0 0 1 681.24 781.28" stroke="#5cb0bd" stroke-width="6.2"/>
<path d="M682.54 780.91A25.5 26.27 0 0 1 684.27 780.53" stroke="#6a0c20" stroke-width="6.2"/>
<path d="M685.60 780.33A25.5 26.27 0 0 1 686.92 780.20" stroke="#a85c82" stroke-width="6.2"/>
</g>
<text x="690.3" y="813.1" text-anchor="middle" font-size="12.2">2030</text>
<!-- d-RCR-2045 -->
<g fill="none">
<path d="M841.00 754.03A49.5 50.98 0 1 1 822.95 852.98" stroke="#b5cde1" stroke-width="6.2"/>
<path d="M822.11 852.66A49.5 50.98 0 0 1 796.50 829.89" stroke="#0f5a9f" stroke-width="6.2"/>
<path d="M796.07 829.08A49.5 50.98 0 0 1 790.55 798.98" stroke="#e8413c" stroke-width="6.2"/>
<path d="M790.66 798.06A49.5 50.98 0 0 1 802.73 771.10" stroke="#1d3f6f" stroke-width="6.2"/>
<path d="M803.33 770.41A49.5 50.98 0 0 1 809.90 764.29" stroke="#e0c7da" stroke-width="6.2"/>
<path d="M810.97 763.48A49.5 50.98 0 0 1 816.60 759.91" stroke="#a31c36" stroke-width="6.2"/>
<path d="M817.63 759.36A49.5 50.98 0 0 1 823.16 756.95" stroke="#f0b5a6" stroke-width="6.2"/>
<path d="M824.83 756.37A49.5 50.98 0 0 1 828.13 755.43" stroke="#5cb0bd" stroke-width="6.2"/>
<path d="M829.85 755.03A49.5 50.98 0 0 1 832.37 754.58" stroke="#a85c82" stroke-width="6.2"/>
<path d="M834.11 754.34A49.5 50.98 0 0 1 836.66 754.11" stroke="#6a0c20" stroke-width="6.2"/>
<path d="M841.00 766.40A37.5 38.62 0 1 1 829.67 842.22" stroke="#b5cde1" stroke-width="6.2"/>
<path d="M828.81 841.96A37.5 38.62 0 0 1 806.14 822.23" stroke="#e8413c" stroke-width="6.2"/>
<path d="M805.74 821.39A37.5 38.62 0 0 1 802.21 804.32" stroke="#0f5a9f" stroke-width="6.2"/>
<path d="M802.23 803.39A37.5 38.62 0 0 1 804.76 790.96" stroke="#1d3f6f" stroke-width="6.2"/>
<path d="M805.10 790.10A37.5 38.62 0 0 1 810.40 780.90" stroke="#f0b5a6" stroke-width="6.2"/>
<path d="M811.26 779.82A37.5 38.62 0 0 1 816.16 774.94" stroke="#e0c7da" stroke-width="6.2"/>
<path d="M816.97 774.28A37.5 38.62 0 0 1 822.74 770.55" stroke="#a31c36" stroke-width="6.2"/>
<path d="M823.67 770.08A37.5 38.62 0 0 1 826.45 768.87" stroke="#5cb0bd" stroke-width="6.2"/>
<path d="M827.92 768.33A37.5 38.62 0 0 1 830.83 767.47" stroke="#a85c82" stroke-width="6.2"/>
<path d="M832.34 767.13A37.5 38.62 0 0 1 834.68 766.72" stroke="#6a0c20" stroke-width="6.2"/>
<path d="M836.23 766.54A37.5 38.62 0 0 1 837.94 766.42" stroke="#a5357f" stroke-width="6.2"/>
<path d="M841.00 778.77A25.5 26.27 0 1 1 835.06 830.83" stroke="#b5cde1" stroke-width="6.2"/>
<path d="M834.18 830.64A25.5 26.27 0 0 1 819.34 820.81" stroke="#e8413c" stroke-width="6.2"/>
<path d="M818.81 820.06A25.5 26.27 0 0 1 814.20 805.01" stroke="#0f5a9f" stroke-width="6.2"/>
<path d="M814.22 804.08A25.5 26.27 0 0 1 816.53 794.03" stroke="#1d3f6f" stroke-width="6.2"/>
<path d="M816.98 793.07A25.5 26.27 0 0 1 820.08 788.23" stroke="#e0c7da" stroke-width="6.2"/>
<path d="M820.75 787.42A25.5 26.27 0 0 1 825.07 783.49" stroke="#f0b5a6" stroke-width="6.2"/>
<path d="M826.19 782.72A25.5 26.27 0 0 1 829.65 780.86" stroke="#a31c36" stroke-width="6.2"/>
<path d="M830.57 780.48A25.5 26.27 0 0 1 831.82 780.02" stroke="#5cb0bd" stroke-width="6.2"/>
<path d="M833.10 779.63A25.5 26.27 0 0 1 834.39 779.31" stroke="#a85c82" stroke-width="6.2"/>
<path d="M835.72 779.06A25.5 26.27 0 0 1 836.59 778.93" stroke="#6a0c20" stroke-width="6.2"/>
<path d="M837.93 778.80A25.5 26.27 0 0 1 838.36 778.77" stroke="#a5357f" stroke-width="6.2"/>
</g>
<text x="840.4" y="811.8" text-anchor="middle" font-size="12.2">2045</text>
<!-- d-RCR-2060 -->
<g fill="none">
<path d="M988.60 754.03A49.5 50.98 0 1 1 971.53 853.33" stroke="#b5cde1" stroke-width="6.2"/>
<path d="M970.68 853.02A49.5 50.98 0 0 1 944.97 831.43" stroke="#0f5a9f" stroke-width="6.2"/>
<path d="M944.51 830.63A49.5 50.98 0 0 1 938.02 800.22" stroke="#e8413c" stroke-width="6.2"/>
<path d="M938.11 799.30A49.5 50.98 0 0 1 950.79 770.57" stroke="#1d3f6f" stroke-width="6.2"/>
<path d="M951.41 769.89A49.5 50.98 0 0 1 957.43 764.35" stroke="#e0c7da" stroke-width="6.2"/>
<path d="M958.57 763.48A49.5 50.98 0 0 1 965.04 759.46" stroke="#a31c36" stroke-width="6.2"/>
<path d="M966.01 758.97A49.5 50.98 0 0 1 970.92 756.89" stroke="#f0b5a6" stroke-width="6.2"/>
<path d="M972.43 756.37A49.5 50.98 0 0 1 975.73 755.43" stroke="#5cb0bd" stroke-width="6.2"/>
<path d="M977.45 755.03A49.5 50.98 0 0 1 980.82 754.45" stroke="#a85c82" stroke-width="6.2"/>
<path d="M982.57 754.25A49.5 50.98 0 0 1 985.12 754.06" stroke="#6a0c20" stroke-width="6.2"/>
<path d="M988.60 766.40A37.5 38.62 0 1 1 977.40 842.25" stroke="#b5cde1" stroke-width="6.2"/>
<path d="M976.53 842.00A37.5 38.62 0 0 1 954.79 824.25" stroke="#e8413c" stroke-width="6.2"/>
<path d="M954.35 823.44A37.5 38.62 0 0 1 949.80 804.92" stroke="#0f5a9f" stroke-width="6.2"/>
<path d="M949.81 804.00A37.5 38.62 0 0 1 952.51 790.59" stroke="#1d3f6f" stroke-width="6.2"/>
<path d="M952.96 789.48A37.5 38.62 0 0 1 957.75 781.21" stroke="#f0b5a6" stroke-width="6.2"/>
<path d="M958.44 780.33A37.5 38.62 0 0 1 964.12 774.64" stroke="#e0c7da" stroke-width="6.2"/>
<path d="M965.09 773.88A37.5 38.62 0 0 1 970.93 770.25" stroke="#a31c36" stroke-width="6.2"/>
<path d="M971.86 769.80A37.5 38.62 0 0 1 974.67 768.63" stroke="#5cb0bd" stroke-width="6.2"/>
<path d="M976.14 768.12A37.5 38.62 0 0 1 979.06 767.32" stroke="#a85c82" stroke-width="6.2"/>
<path d="M980.59 767.00A37.5 38.62 0 0 1 982.93 766.64" stroke="#6a0c20" stroke-width="6.2"/>
<path d="M984.48 766.48A37.5 38.62 0 0 1 985.54 766.42" stroke="#a5357f" stroke-width="6.2"/>
<path d="M988.60 778.77A25.5 26.27 0 1 1 983.32 830.94" stroke="#b5cde1" stroke-width="6.2"/>
<path d="M982.43 830.78A25.5 26.27 0 0 1 967.15 821.10" stroke="#e8413c" stroke-width="6.2"/>
<path d="M966.61 820.36A25.5 26.27 0 0 1 961.80 805.46" stroke="#0f5a9f" stroke-width="6.2"/>
<path d="M961.80 804.54A25.5 26.27 0 0 1 964.44 793.37" stroke="#1d3f6f" stroke-width="6.2"/>
<path d="M965.00 792.26A25.5 26.27 0 0 1 967.48 788.47" stroke="#e0c7da" stroke-width="6.2"/>
<path d="M968.35 787.42A25.5 26.27 0 0 1 972.56 783.57" stroke="#f0b5a6" stroke-width="6.2"/>
<path d="M973.42 782.97A25.5 26.27 0 0 1 977.05 780.95" stroke="#a31c36" stroke-width="6.2"/>
<path d="M978.17 780.48A25.5 26.27 0 0 1 979.42 780.02" stroke="#5cb0bd" stroke-width="6.2"/>
<path d="M980.70 779.63A25.5 26.27 0 0 1 981.99 779.31" stroke="#a85c82" stroke-width="6.2"/>
<path d="M983.32 779.06A25.5 26.27 0 0 1 984.63 778.88" stroke="#6a0c20" stroke-width="6.2"/>
</g>
<text x="990.3" y="811.9" text-anchor="middle" font-size="12.2">2060</text>
<g fill="none">
<path d="M556.52 363.39A47.4 51.43 0 1 1 516.79 384.79" stroke="#bdbdbd" stroke-width="5.8"/>
<path d="M557.16 375.90A35.9 38.95 0 1 1 524.83 394.16" stroke="#bdbdbd" stroke-width="5.8"/>
<path d="M561.20 389.01A24.5 26.58 0 1 1 532.26 405.71" stroke="#bdbdbd" stroke-width="5.8"/>
</g>
<g font-size="10.5">
<text transform="translate(519.0 384.6) rotate(-25.5)">SSP370</text>
<text transform="translate(524.6 395.0) rotate(-25.5)">SSP245</text>
<text transform="translate(529.4 406.0) rotate(-25.5)">SSP126</text>
</g>
<rect x="36.3" y="402.2" width="27.9" height="19.5" fill="#1d9c6f"/>
<text x="50.2" y="416.3" text-anchor="middle" font-size="12.3" style="fill:#0c4a30;stroke:#0c4a30;stroke-width:0.25">LIK</text>
<rect x="36.1" y="534" width="27.9" height="19.7" fill="#5fae69"/>
<text x="50.0" y="548.2" text-anchor="middle" font-size="12.3" style="fill:#0a4f17;stroke:#0a4f17;stroke-width:0.25">NFP</text>
<rect x="36.1" y="665" width="27.9" height="18.9" fill="#90be4e"/>
<text x="50.0" y="678.9" text-anchor="middle" font-size="12.3" style="fill:#254f05;stroke:#254f05;stroke-width:0.25">LZJ</text>
<rect x="36.1" y="798.4" width="28.2" height="19.2" fill="#d6d944"/>
<text x="50.2" y="812.4" text-anchor="middle" font-size="12.3" style="fill:#3d3d03;stroke:#3d3d03;stroke-width:0.25">RCR</text>
<rect x="1052.1" y="403.9" width="27.9" height="19.1" fill="#1d9c6f"/>
<text x="1066.0" y="417.8" text-anchor="middle" font-size="12.3" style="fill:#0c4a30;stroke:#0c4a30;stroke-width:0.25">LIK</text>
<rect x="1051.1" y="535.9" width="27.5" height="18.8" fill="#5fae69"/>
<text x="1064.8" y="549.7" text-anchor="middle" font-size="12.3" style="fill:#0a4f17;stroke:#0a4f17;stroke-width:0.25">NFP</text>
<rect x="1048.2" y="665.9" width="27.8" height="19.4" fill="#90be4e"/>
<text x="1062.1" y="680.0" text-anchor="middle" font-size="12.3" style="fill:#254f05;stroke:#254f05;stroke-width:0.25">LZJ</text>
<rect x="1048.1" y="797.4" width="27.9" height="19.1" fill="#d6d944"/>
<text x="1062.0" y="811.3" text-anchor="middle" font-size="12.3" style="fill:#3d3d03;stroke:#3d3d03;stroke-width:0.25">RCR</text>
<rect x="524.7" y="502.5" width="26.2" height="15.4" fill="#1d3f6f"/>
<text x="556.7" y="514.6" font-size="12">USA</text>
<rect x="524.7" y="535.7" width="26.2" height="15.4" fill="#0f5a9f"/>
<text x="556.7" y="547.8" font-size="12">EUR</text>
<rect x="524.7" y="568.9" width="26.2" height="15.4" fill="#5fa3cc"/>
<text x="556.7" y="581.0" font-size="12">ANZ</text>
<rect x="524.7" y="602.1" width="26.2" height="15.4" fill="#b5cde1"/>
<text x="556.7" y="614.2" font-size="12">CHN</text>
<rect x="524.7" y="635.3" width="26.2" height="15.4" fill="#e0c7da"/>
<text x="556.7" y="647.4" font-size="12">RUS</text>
<rect x="524.7" y="668.5" width="26.2" height="15.4" fill="#a85c82"/>
<text x="556.7" y="680.6" font-size="12">ASN</text>
<rect x="524.7" y="701.7" width="26.2" height="15.4" fill="#f0b5a6"/>
<text x="556.7" y="713.8" font-size="12">ISA</text>
<rect x="524.7" y="734.9" width="26.2" height="15.4" fill="#a5357f"/>
<text x="556.7" y="747.0" font-size="12">LIT</text>
<rect x="524.7" y="768.1" width="26.2" height="15.4" fill="#e8413c"/>
<text x="556.7" y="780.2" font-size="12">ROW</text>
<rect x="524.7" y="801.3" width="26.2" height="15.4" fill="#a31c36"/>
<text x="556.7" y="813.4" font-size="12">JKN</text>
<rect x="524.7" y="834.5" width="26.2" height="15.4" fill="#6a0c20"/>
<text x="556.7" y="846.6" font-size="12">CAN</text>
</svg></body></html>
